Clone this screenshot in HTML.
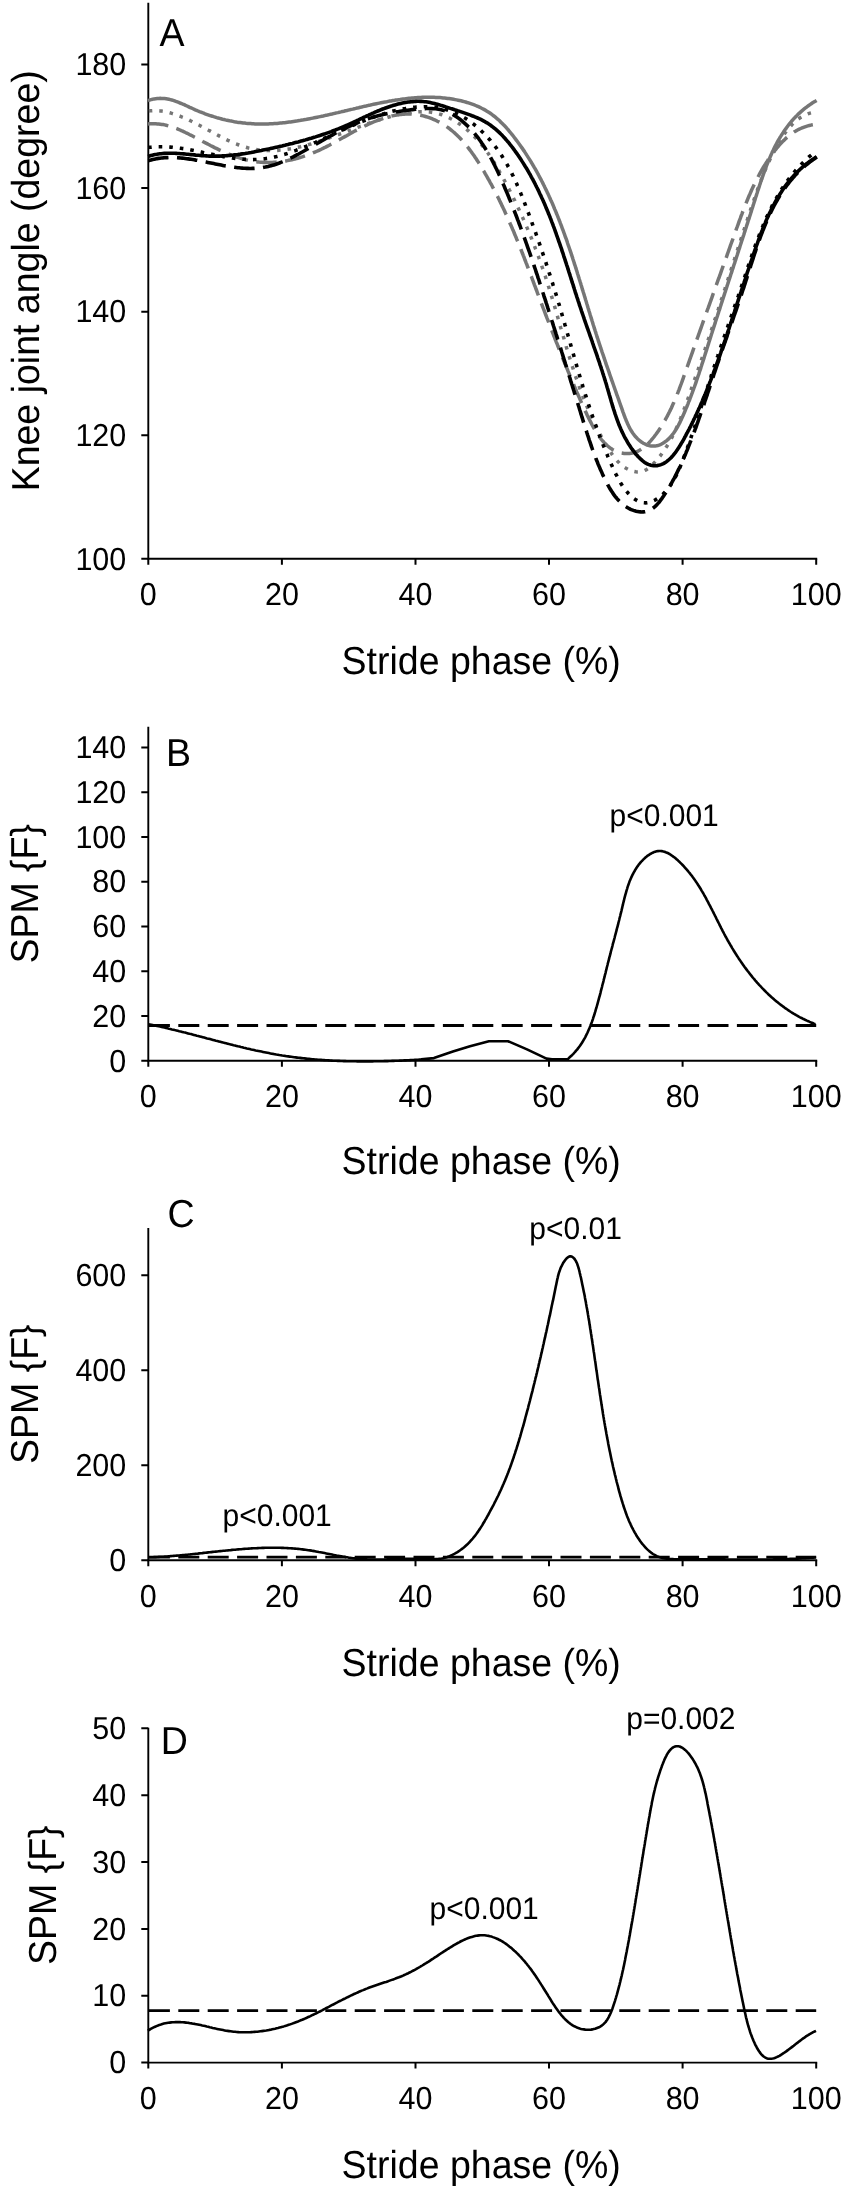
<!DOCTYPE html><html><head><meta charset="utf-8"><style>html,body{margin:0;padding:0;background:#fff;width:850px;height:2190px;overflow:hidden}svg{display:block;will-change:transform;text-rendering:geometricPrecision}</style></head><body><svg width="850" height="2190" viewBox="0 0 850 2190">
<rect width="850" height="2190" fill="#fff"/>
<g font-family="&quot;Liberation Sans&quot;, sans-serif"><path d="M148.3 2.8V558.8M147.3 558.8H817.2" stroke="#000" stroke-width="1.9" fill="none"/><path d="M141.3 558.8H148.3M141.3 435.2H148.3M141.3 311.7H148.3M141.3 188.1H148.3M141.3 64.6H148.3M148.3 558.8V564.8M281.9 558.8V564.8M415.5 558.8V564.8M549.0 558.8V564.8M682.6 558.8V564.8M816.2 558.8V564.8" stroke="#000" stroke-width="2" fill="none"/><text transform="translate(126.3,569.5) scale(1,1.04)" text-anchor="end" font-size="30.5">100</text><text transform="translate(126.3,445.9) scale(1,1.04)" text-anchor="end" font-size="30.5">120</text><text transform="translate(126.3,322.4) scale(1,1.04)" text-anchor="end" font-size="30.5">140</text><text transform="translate(126.3,198.8) scale(1,1.04)" text-anchor="end" font-size="30.5">160</text><text transform="translate(126.3,75.3) scale(1,1.04)" text-anchor="end" font-size="30.5">180</text><text transform="translate(148.3,605.3) scale(1,1.04)" text-anchor="middle" font-size="30.5">0</text><text transform="translate(281.9,605.3) scale(1,1.04)" text-anchor="middle" font-size="30.5">20</text><text transform="translate(415.5,605.3) scale(1,1.04)" text-anchor="middle" font-size="30.5">40</text><text transform="translate(549.0,605.3) scale(1,1.04)" text-anchor="middle" font-size="30.5">60</text><text transform="translate(682.6,605.3) scale(1,1.04)" text-anchor="middle" font-size="30.5">80</text><text transform="translate(816.2,605.3) scale(1,1.04)" text-anchor="middle" font-size="30.5">100</text><text transform="translate(481.2,673.8) scale(1,1.04)" text-anchor="middle" font-size="37.5">Stride phase (%)</text><text transform="translate(38.6,280.8) rotate(-90) scale(1,1.04)" text-anchor="middle" font-size="37.5">Knee joint angle (degree)</text><text transform="translate(159.5,46.3) scale(1,1.04)" font-size="37.5">A</text></g>
<g font-family="&quot;Liberation Sans&quot;, sans-serif"><path d="M148.3 726.8V1060.8M147.3 1060.8H817.2" stroke="#000" stroke-width="1.9" fill="none"/><path d="M141.3 1060.8H148.3M141.3 1016.0H148.3M141.3 971.3H148.3M141.3 926.5H148.3M141.3 881.7H148.3M141.3 836.9H148.3M141.3 792.2H148.3M141.3 747.4H148.3M148.3 1060.8V1066.8M281.9 1060.8V1066.8M415.5 1060.8V1066.8M549.0 1060.8V1066.8M682.6 1060.8V1066.8M816.2 1060.8V1066.8" stroke="#000" stroke-width="2" fill="none"/><text transform="translate(126.3,1071.5) scale(1,1.04)" text-anchor="end" font-size="30.5">0</text><text transform="translate(126.3,1026.7) scale(1,1.04)" text-anchor="end" font-size="30.5">20</text><text transform="translate(126.3,982.0) scale(1,1.04)" text-anchor="end" font-size="30.5">40</text><text transform="translate(126.3,937.2) scale(1,1.04)" text-anchor="end" font-size="30.5">60</text><text transform="translate(126.3,892.4) scale(1,1.04)" text-anchor="end" font-size="30.5">80</text><text transform="translate(126.3,847.6) scale(1,1.04)" text-anchor="end" font-size="30.5">100</text><text transform="translate(126.3,802.9) scale(1,1.04)" text-anchor="end" font-size="30.5">120</text><text transform="translate(126.3,758.1) scale(1,1.04)" text-anchor="end" font-size="30.5">140</text><text transform="translate(148.3,1107.3) scale(1,1.04)" text-anchor="middle" font-size="30.5">0</text><text transform="translate(281.9,1107.3) scale(1,1.04)" text-anchor="middle" font-size="30.5">20</text><text transform="translate(415.5,1107.3) scale(1,1.04)" text-anchor="middle" font-size="30.5">40</text><text transform="translate(549.0,1107.3) scale(1,1.04)" text-anchor="middle" font-size="30.5">60</text><text transform="translate(682.6,1107.3) scale(1,1.04)" text-anchor="middle" font-size="30.5">80</text><text transform="translate(816.2,1107.3) scale(1,1.04)" text-anchor="middle" font-size="30.5">100</text><text transform="translate(481.2,1173.6) scale(1,1.04)" text-anchor="middle" font-size="37.5">Stride phase (%)</text><text transform="translate(38,893.8) rotate(-90) scale(1,1.04)" text-anchor="middle" font-size="37.5">SPM {F}</text><text transform="translate(166,766.2) scale(1,1.04)" font-size="37.5">B</text></g>
<g font-family="&quot;Liberation Sans&quot;, sans-serif"><path d="M148.3 1228.0V1560.3M147.3 1560.3H817.2" stroke="#000" stroke-width="1.9" fill="none"/><path d="M141.3 1560.3H148.3M141.3 1465.3H148.3M141.3 1370.2H148.3M141.3 1275.2H148.3M148.3 1560.3V1566.3M281.9 1560.3V1566.3M415.5 1560.3V1566.3M549.0 1560.3V1566.3M682.6 1560.3V1566.3M816.2 1560.3V1566.3" stroke="#000" stroke-width="2" fill="none"/><text transform="translate(126.3,1571.0) scale(1,1.04)" text-anchor="end" font-size="30.5">0</text><text transform="translate(126.3,1476.0) scale(1,1.04)" text-anchor="end" font-size="30.5">200</text><text transform="translate(126.3,1380.9) scale(1,1.04)" text-anchor="end" font-size="30.5">400</text><text transform="translate(126.3,1285.9) scale(1,1.04)" text-anchor="end" font-size="30.5">600</text><text transform="translate(148.3,1606.8) scale(1,1.04)" text-anchor="middle" font-size="30.5">0</text><text transform="translate(281.9,1606.8) scale(1,1.04)" text-anchor="middle" font-size="30.5">20</text><text transform="translate(415.5,1606.8) scale(1,1.04)" text-anchor="middle" font-size="30.5">40</text><text transform="translate(549.0,1606.8) scale(1,1.04)" text-anchor="middle" font-size="30.5">60</text><text transform="translate(682.6,1606.8) scale(1,1.04)" text-anchor="middle" font-size="30.5">80</text><text transform="translate(816.2,1606.8) scale(1,1.04)" text-anchor="middle" font-size="30.5">100</text><text transform="translate(481.2,1676.3) scale(1,1.04)" text-anchor="middle" font-size="37.5">Stride phase (%)</text><text transform="translate(38,1394.2) rotate(-90) scale(1,1.04)" text-anchor="middle" font-size="37.5">SPM {F}</text><text transform="translate(167.5,1226.6) scale(1,1.04)" font-size="37.5">C</text></g>
<g font-family="&quot;Liberation Sans&quot;, sans-serif"><path d="M148.3 1727.8V2062.6M147.3 2062.6H817.2" stroke="#000" stroke-width="1.9" fill="none"/><path d="M141.3 2062.6H148.3M141.3 1995.7H148.3M141.3 1928.9H148.3M141.3 1862.0H148.3M141.3 1795.2H148.3M141.3 1728.3H148.3M148.3 2062.6V2068.6M281.9 2062.6V2068.6M415.5 2062.6V2068.6M549.0 2062.6V2068.6M682.6 2062.6V2068.6M816.2 2062.6V2068.6" stroke="#000" stroke-width="2" fill="none"/><text transform="translate(126.3,2073.3) scale(1,1.04)" text-anchor="end" font-size="30.5">0</text><text transform="translate(126.3,2006.4) scale(1,1.04)" text-anchor="end" font-size="30.5">10</text><text transform="translate(126.3,1939.6) scale(1,1.04)" text-anchor="end" font-size="30.5">20</text><text transform="translate(126.3,1872.7) scale(1,1.04)" text-anchor="end" font-size="30.5">30</text><text transform="translate(126.3,1805.9) scale(1,1.04)" text-anchor="end" font-size="30.5">40</text><text transform="translate(126.3,1739.0) scale(1,1.04)" text-anchor="end" font-size="30.5">50</text><text transform="translate(148.3,2109.1) scale(1,1.04)" text-anchor="middle" font-size="30.5">0</text><text transform="translate(281.9,2109.1) scale(1,1.04)" text-anchor="middle" font-size="30.5">20</text><text transform="translate(415.5,2109.1) scale(1,1.04)" text-anchor="middle" font-size="30.5">40</text><text transform="translate(549.0,2109.1) scale(1,1.04)" text-anchor="middle" font-size="30.5">60</text><text transform="translate(682.6,2109.1) scale(1,1.04)" text-anchor="middle" font-size="30.5">80</text><text transform="translate(816.2,2109.1) scale(1,1.04)" text-anchor="middle" font-size="30.5">100</text><text transform="translate(481.2,2177.6) scale(1,1.04)" text-anchor="middle" font-size="37.5">Stride phase (%)</text><text transform="translate(55.5,1895.2) rotate(-90) scale(1,1.04)" text-anchor="middle" font-size="37.5">SPM {F}</text><text transform="translate(160.8,1754.3) scale(1,1.04)" font-size="37.5">D</text></g>
<path d="M148.0 123.9L149.6 123.8L151.2 123.7L152.7 123.7L154.3 123.7L155.8 123.8L157.3 123.9L158.8 124.0L160.3 124.2L161.8 124.4L163.2 124.6L164.7 124.9L166.1 125.2L167.5 125.6L168.9 126.0L170.4 126.4L171.7 126.8L173.1 127.3L174.5 127.8L175.9 128.3L177.3 128.8L178.6 129.4L180.0 130.0L181.3 130.6L182.7 131.2L184.0 131.8L185.4 132.5L186.7 133.1L188.1 133.8L189.4 134.5L190.7 135.1L192.1 135.8L193.4 136.5L194.7 137.2L196.1 137.9L197.4 138.7L198.8 139.4L200.1 140.1L201.5 140.8L202.8 141.5L204.2 142.2L205.5 142.9L206.9 143.6L208.2 144.3L209.6 145.0L210.9 145.7L212.3 146.4L213.7 147.1L215.0 147.8L216.4 148.4L217.8 149.1L219.2 149.8L220.5 150.4L221.9 151.0L223.3 151.7L224.7 152.3L226.1 152.9L227.5 153.5L228.9 154.1L230.3 154.6L231.7 155.2L233.1 155.7L234.5 156.2L235.9 156.8L237.3 157.2L238.7 157.7L240.2 158.2L241.6 158.6L243.0 159.0L244.4 159.4L245.9 159.8L247.3 160.1L248.8 160.5L250.2 160.8L251.7 161.1L253.1 161.3L254.6 161.6L256.1 161.8L257.5 161.9L259.0 162.1L260.5 162.2L262.0 162.3L263.5 162.4L265.0 162.5L266.5 162.5L268.0 162.5L269.4 162.5L270.9 162.5L272.4 162.4L273.9 162.3L275.4 162.2L277.0 162.1L278.5 161.9L280.0 161.8L281.5 161.6L283.0 161.4L284.4 161.1L285.9 160.9L287.4 160.6L288.9 160.3L290.4 160.0L291.9 159.7L293.4 159.3L294.9 159.0L296.3 158.6L297.8 158.2L299.3 157.7L300.7 157.3L302.2 156.9L303.6 156.4L305.0 155.9L306.5 155.4L307.9 154.9L309.3 154.4L310.7 153.8L312.1 153.3L313.5 152.7L314.9 152.1L316.3 151.5L317.7 150.9L319.0 150.3L320.4 149.7L321.7 149.0L323.0 148.4L324.4 147.7L325.7 147.1L327.0 146.4L328.3 145.7L329.7 145.0L331.0 144.3L332.3 143.6L333.6 142.9L334.9 142.2L336.2 141.5L337.5 140.8L338.8 140.0L340.1 139.3L341.4 138.6L342.7 137.8L344.0 137.1L345.3 136.4L346.6 135.7L347.9 134.9L349.2 134.2L350.5 133.5L351.8 132.8L353.1 132.0L354.4 131.3L355.7 130.6L357.1 129.9L358.4 129.2L359.7 128.5L361.1 127.8L362.4 127.1L363.8 126.5L365.2 125.8L366.6 125.1L367.9 124.5L369.3 123.8L370.7 123.2L372.1 122.6L373.5 122.0L374.9 121.4L376.4 120.9L377.8 120.3L379.2 119.8L380.7 119.3L382.1 118.8L383.5 118.3L385.0 117.8L386.4 117.4L387.9 117.0L389.3 116.6L390.8 116.2L392.3 115.9L393.7 115.6L395.2 115.3L396.7 115.0L398.1 114.8L399.6 114.6L401.1 114.4L402.6 114.3L404.1 114.2L405.5 114.1L407.0 114.0L408.5 114.0L410.0 114.0L411.5 114.1L413.0 114.2L414.4 114.3L415.9 114.5L417.4 114.7L418.9 114.9L420.4 115.2L421.8 115.5L423.3 115.9L424.7 116.3L426.2 116.7L427.6 117.1L429.1 117.6L430.5 118.1L431.9 118.7L433.3 119.3L434.7 119.9L436.1 120.5L437.4 121.2L438.8 121.9L440.1 122.6L441.4 123.3L442.7 124.1L444.0 124.9L445.2 125.7L446.4 126.5L447.7 127.4L448.9 128.2L450.0 129.1L451.2 130.1L452.3 131.0L453.5 132.0L454.6 132.9L455.7 133.9L456.8 135.0L457.8 136.0L458.9 137.0L459.9 138.1L461.0 139.2L462.0 140.3L463.0 141.4L464.0 142.5L464.9 143.7L465.9 144.8L466.9 146.0L467.8 147.2L468.7 148.4L469.6 149.6L470.5 150.8L471.4 152.0L472.3 153.3L473.2 154.5L474.1 155.7L474.9 157.0L475.8 158.3L476.6 159.5L477.4 160.8L478.3 162.1L479.1 163.4L479.9 164.7L480.7 166.0L481.5 167.3L482.3 168.6L483.0 169.9L483.8 171.2L484.6 172.5L485.3 173.8L486.1 175.2L486.9 176.5L487.6 177.8L488.3 179.1L489.1 180.4L489.8 181.8L490.5 183.1L491.3 184.4L492.0 185.7L492.7 187.1L493.4 188.4L494.1 189.7L494.8 191.1L495.5 192.4L496.2 193.8L496.8 195.1L497.5 196.4L498.2 197.8L498.9 199.1L499.5 200.5L500.2 201.8L500.8 203.2L501.5 204.5L502.1 205.9L502.8 207.3L503.4 208.6L504.1 210.0L504.7 211.3L505.3 212.7L505.9 214.1L506.6 215.4L507.2 216.8L507.8 218.2L508.4 219.5L509.0 220.9L509.6 222.3L510.2 223.7L510.8 225.0L511.4 226.4L512.0 227.8L512.6 229.2L513.2 230.5L513.8 231.9L514.3 233.3L514.9 234.7L515.5 236.1L516.1 237.5L516.6 238.9L517.2 240.2L517.8 241.6L518.3 243.0L518.9 244.4L519.4 245.8L520.0 247.2L520.6 248.6L521.1 250.0L521.7 251.4L522.2 252.8L522.8 254.2L523.3 255.6L523.9 257.0L524.4 258.4L524.9 259.8L525.5 261.2L526.0 262.6L526.6 264.0L527.1 265.4L527.6 266.8L528.2 268.2L528.7 269.6L529.2 271.0L529.8 272.4L530.3 273.8L530.8 275.2L531.4 276.6L531.9 278.0L532.4 279.5L533.0 280.9L533.5 282.3L534.0 283.7L534.5 285.1L535.1 286.5L535.6 287.9L536.1 289.3L536.7 290.7L537.2 292.2L537.7 293.6L538.3 295.0L538.8 296.4L539.3 297.8L539.8 299.2L540.4 300.6L540.9 302.1L541.4 303.5L542.0 304.9L542.5 306.3L543.0 307.7L543.6 309.1L544.1 310.5L544.7 312.0L545.2 313.4L545.7 314.8L546.3 316.2L546.8 317.6L547.4 319.0L547.9 320.5L548.5 321.9L549.0 323.3L549.5 324.7L550.1 326.1L550.6 327.5L551.2 328.9L551.7 330.3L552.3 331.8L552.8 333.2L553.4 334.6L553.9 336.0L554.5 337.4L555.0 338.8L555.6 340.2L556.1 341.6L556.7 343.0L557.3 344.4L557.8 345.8L558.4 347.2L558.9 348.6L559.5 350.0L560.0 351.4L560.6 352.8L561.2 354.2L561.7 355.6L562.3 357.0L562.8 358.4L563.4 359.8L564.0 361.2L564.5 362.6L565.1 364.0L565.7 365.4L566.2 366.7L566.8 368.1L567.4 369.5L567.9 370.9L568.5 372.3L569.1 373.6L569.6 375.0L570.2 376.4L570.8 377.8L571.4 379.1L571.9 380.5L572.5 381.9L573.1 383.2L573.7 384.6L574.2 385.9L574.8 387.3L575.4 388.7L576.0 390.0L576.5 391.4L577.1 392.7L577.7 394.1L578.3 395.4L578.9 396.8L579.5 398.1L580.1 399.5L580.7 400.9L581.3 402.2L581.9 403.6L582.5 405.0L583.1 406.3L583.8 407.7L584.4 409.1L585.0 410.5L585.7 411.9L586.4 413.3L587.0 414.7L587.7 416.1L588.4 417.5L589.1 419.0L589.8 420.4L590.6 421.9L591.3 423.3L592.0 424.7L592.8 426.2L593.6 427.6L594.4 429.0L595.2 430.4L596.0 431.7L596.9 433.1L597.8 434.4L598.6 435.7L599.6 437.0L600.5 438.3L601.4 439.5L602.4 440.7L603.4 441.8L604.4 442.9L605.5 444.0L606.6 445.0L607.7 446.0L608.8 446.9L610.0 447.8L611.1 448.6L612.4 449.4L613.6 450.1L614.9 450.7L616.2 451.3L617.5 451.8L618.8 452.2L620.1 452.6L621.5 453.0L622.8 453.2L624.2 453.4L625.6 453.5L626.9 453.6L628.3 453.6L629.6 453.5L631.0 453.3L632.3 453.1L633.6 452.7L634.9 452.4L636.2 451.9L637.5 451.3L638.7 450.7L639.9 450.1L641.1 449.3L642.3 448.5L643.5 447.7L644.6 446.8L645.7 445.8L646.8 444.8L647.9 443.8L649.0 442.7L650.0 441.6L651.1 440.4L652.1 439.2L653.1 438.0L654.1 436.8L655.0 435.5L656.0 434.3L656.9 433.0L657.8 431.7L658.7 430.4L659.6 429.1L660.4 427.8L661.2 426.5L662.1 425.2L662.9 423.9L663.7 422.6L664.4 421.2L665.2 419.9L665.9 418.6L666.7 417.2L667.4 415.9L668.1 414.5L668.8 413.1L669.5 411.8L670.2 410.4L670.8 409.1L671.5 407.7L672.1 406.3L672.7 404.9L673.3 403.5L673.9 402.2L674.5 400.8L675.1 399.4L675.7 398.0L676.3 396.6L676.9 395.2L677.4 393.8L678.0 392.4L678.5 391.0L679.1 389.6L679.6 388.2L680.1 386.7L680.6 385.3L681.2 383.9L681.7 382.5L682.2 381.1L682.7 379.7L683.2 378.3L683.7 376.8L684.2 375.4L684.7 374.0L685.2 372.6L685.7 371.2L686.2 369.8L686.7 368.3L687.2 366.9L687.7 365.5L688.2 364.1L688.7 362.7L689.2 361.3L689.7 359.8L690.2 358.4L690.7 357.0L691.2 355.6L691.7 354.2L692.2 352.8L692.7 351.4L693.2 349.9L693.7 348.5L694.2 347.1L694.7 345.7L695.2 344.3L695.7 342.9L696.2 341.5L696.7 340.1L697.2 338.7L697.7 337.2L698.2 335.8L698.7 334.4L699.2 333.0L699.7 331.6L700.2 330.2L700.7 328.8L701.2 327.4L701.7 326.0L702.2 324.5L702.7 323.1L703.2 321.7L703.7 320.3L704.2 318.9L704.7 317.5L705.2 316.1L705.7 314.7L706.2 313.3L706.7 311.9L707.2 310.5L707.7 309.0L708.3 307.6L708.8 306.2L709.3 304.8L709.8 303.4L710.3 302.0L710.8 300.6L711.3 299.2L711.8 297.8L712.3 296.4L712.8 294.9L713.3 293.5L713.8 292.1L714.3 290.7L714.8 289.3L715.3 287.9L715.8 286.5L716.3 285.1L716.8 283.7L717.3 282.2L717.8 280.8L718.3 279.4L718.9 278.0L719.4 276.6L719.9 275.2L720.4 273.8L720.9 272.4L721.4 270.9L721.9 269.5L722.4 268.1L722.9 266.7L723.4 265.3L723.9 263.9L724.4 262.5L724.9 261.0L725.4 259.6L726.0 258.2L726.5 256.8L727.0 255.4L727.5 253.9L728.0 252.5L728.5 251.1L729.0 249.7L729.5 248.3L730.0 246.9L730.5 245.4L731.0 244.0L731.5 242.6L732.1 241.2L732.6 239.7L733.1 238.3L733.6 236.9L734.1 235.5L734.6 234.0L735.1 232.6L735.6 231.2L736.1 229.8L736.6 228.3L737.2 226.9L737.7 225.5L738.2 224.1L738.7 222.6L739.2 221.2L739.7 219.8L740.3 218.4L740.8 216.9L741.3 215.5L741.9 214.1L742.4 212.7L742.9 211.3L743.5 209.9L744.0 208.4L744.6 207.0L745.1 205.6L745.7 204.2L746.2 202.8L746.8 201.4L747.4 200.0L747.9 198.6L748.5 197.2L749.1 195.8L749.7 194.5L750.3 193.1L750.9 191.7L751.5 190.3L752.1 189.0L752.8 187.6L753.4 186.2L754.0 184.9L754.7 183.5L755.4 182.2L756.0 180.8L756.7 179.5L757.4 178.2L758.1 176.8L758.8 175.5L759.5 174.2L760.2 172.9L760.9 171.6L761.6 170.3L762.4 169.0L763.1 167.7L763.9 166.4L764.7 165.1L765.5 163.9L766.3 162.6L767.1 161.4L767.9 160.1L768.7 158.9L769.6 157.7L770.4 156.4L771.3 155.2L772.1 154.0L773.0 152.8L773.9 151.6L774.9 150.4L775.8 149.3L776.7 148.1L777.7 147.0L778.7 145.8L779.6 144.7L780.7 143.6L781.7 142.5L782.7 141.4L783.8 140.4L784.8 139.4L785.9 138.4L787.0 137.4L788.2 136.4L789.3 135.5L790.5 134.6L791.7 133.7L792.9 132.9L794.1 132.0L795.4 131.3L796.7 130.5L798.0 129.8L799.3 129.1L800.7 128.5L802.1 127.9L803.5 127.3L804.9 126.8L806.4 126.3L807.8 125.9L809.4 125.5L810.9 125.1L812.5 124.8L814.1 124.5L815.7 124.3L817.4 124.2" fill="none" stroke="#767676" stroke-width="3.5" stroke-dasharray="20.5 8.5"/>
<path d="M148.8 110.9L150.2 110.8L151.6 110.7L153.0 110.6L154.4 110.6L155.8 110.6L157.2 110.7L158.6 110.8L160.0 110.9L161.4 111.1L162.8 111.3L164.2 111.5L165.6 111.8L167.0 112.1L168.4 112.4L169.8 112.8L171.1 113.2L172.5 113.6L173.9 114.0L175.3 114.5L176.7 114.9L178.1 115.4L179.5 116.0L180.9 116.5L182.2 117.1L183.6 117.6L185.0 118.2L186.4 118.9L187.8 119.5L189.2 120.1L190.5 120.8L191.9 121.5L193.3 122.2L194.7 122.8L196.1 123.6L197.4 124.3L198.8 125.0L200.2 125.7L201.6 126.5L203.0 127.2L204.3 127.9L205.7 128.7L207.1 129.4L208.5 130.2L209.9 130.9L211.3 131.7L212.6 132.4L214.0 133.2L215.4 133.9L216.8 134.6L218.2 135.4L219.6 136.1L221.0 136.8L222.3 137.5L223.7 138.2L225.1 138.9L226.5 139.6L227.9 140.3L229.3 140.9L230.7 141.5L232.1 142.2L233.5 142.8L234.9 143.4L236.3 143.9L237.7 144.5L239.1 145.0L240.5 145.5L241.9 146.0L243.3 146.5L244.7 146.9L246.1 147.3L247.5 147.7L248.9 148.1L250.3 148.4L251.8 148.7L253.2 149.0L254.6 149.3L256.0 149.5L257.4 149.7L258.8 149.9L260.3 150.1L261.7 150.2L263.1 150.4L264.6 150.5L266.0 150.5L267.4 150.6L268.8 150.6L270.3 150.6L271.7 150.6L273.1 150.6L274.6 150.5L276.0 150.5L277.5 150.4L278.9 150.3L280.3 150.1L281.8 150.0L283.2 149.8L284.7 149.7L286.1 149.5L287.6 149.3L289.0 149.0L290.4 148.8L291.9 148.5L293.3 148.3L294.8 148.0L296.2 147.7L297.7 147.3L299.2 147.0L300.6 146.7L302.1 146.3L303.5 146.0L305.0 145.6L306.4 145.2L307.9 144.8L309.3 144.4L310.8 144.0L312.3 143.5L313.7 143.1L315.2 142.6L316.6 142.2L318.1 141.7L319.6 141.2L321.0 140.8L322.5 140.3L323.9 139.8L325.4 139.3L326.9 138.8L328.3 138.3L329.8 137.7L331.3 137.2L332.7 136.7L334.2 136.2L335.6 135.6L337.1 135.1L338.6 134.5L340.0 134.0L341.5 133.5L343.0 132.9L344.4 132.4L345.9 131.8L347.4 131.3L348.8 130.7L350.3 130.2L351.7 129.6L353.2 129.1L354.7 128.5L356.1 128.0L357.6 127.4L359.1 126.9L360.5 126.3L362.0 125.8L363.4 125.3L364.9 124.7L366.4 124.2L367.8 123.7L369.3 123.2L370.8 122.7L372.2 122.2L373.7 121.7L375.1 121.2L376.6 120.7L378.0 120.2L379.5 119.8L381.0 119.3L382.4 118.9L383.9 118.4L385.3 118.0L386.8 117.6L388.2 117.2L389.7 116.8L391.1 116.4L392.6 116.0L394.0 115.6L395.5 115.3L396.9 114.9L398.4 114.6L399.8 114.3L401.3 114.0L402.7 113.7L404.2 113.4L405.6 113.2L407.0 112.9L408.5 112.7L409.9 112.5L411.3 112.3L412.8 112.2L414.2 112.0L415.7 111.9L417.1 111.8L418.5 111.7L419.9 111.7L421.4 111.7L422.8 111.7L424.2 111.7L425.6 111.8L427.1 111.9L428.5 112.0L429.9 112.1L431.3 112.3L432.7 112.5L434.1 112.8L435.5 113.1L436.9 113.4L438.3 113.7L439.7 114.1L441.1 114.5L442.5 115.0L443.9 115.5L445.3 116.1L446.7 116.7L448.1 117.3L449.5 118.0L450.8 118.7L452.2 119.4L453.6 120.2L454.9 120.9L456.2 121.8L457.6 122.6L458.9 123.5L460.1 124.4L461.4 125.3L462.7 126.2L463.9 127.2L465.1 128.1L466.3 129.1L467.5 130.1L468.7 131.1L469.8 132.1L470.9 133.2L472.0 134.2L473.1 135.3L474.2 136.4L475.2 137.4L476.2 138.5L477.3 139.6L478.3 140.8L479.2 141.9L480.2 143.0L481.2 144.2L482.1 145.3L483.0 146.5L484.0 147.7L484.9 148.9L485.8 150.1L486.6 151.3L487.5 152.5L488.4 153.7L489.2 155.0L490.0 156.2L490.9 157.4L491.7 158.7L492.5 159.9L493.3 161.2L494.1 162.5L494.9 163.8L495.6 165.0L496.4 166.3L497.2 167.6L497.9 168.9L498.7 170.2L499.4 171.5L500.1 172.8L500.9 174.1L501.6 175.4L502.3 176.7L503.1 178.0L503.8 179.4L504.5 180.7L505.2 182.0L505.9 183.3L506.6 184.7L507.3 186.0L508.0 187.3L508.7 188.6L509.4 190.0L510.1 191.3L510.7 192.6L511.4 194.0L512.1 195.3L512.8 196.7L513.4 198.0L514.1 199.4L514.8 200.7L515.4 202.1L516.1 203.4L516.7 204.8L517.4 206.1L518.0 207.5L518.6 208.9L519.3 210.2L519.9 211.6L520.5 212.9L521.2 214.3L521.8 215.7L522.4 217.1L523.0 218.4L523.6 219.8L524.2 221.2L524.8 222.6L525.4 223.9L526.0 225.3L526.6 226.7L527.2 228.1L527.8 229.5L528.4 230.9L528.9 232.3L529.5 233.7L530.1 235.0L530.7 236.4L531.2 237.8L531.8 239.2L532.3 240.6L532.9 242.0L533.4 243.4L534.0 244.8L534.5 246.2L535.1 247.7L535.6 249.1L536.2 250.5L536.7 251.9L537.2 253.3L537.7 254.7L538.3 256.1L538.8 257.5L539.3 259.0L539.8 260.4L540.3 261.8L540.8 263.2L541.3 264.6L541.8 266.1L542.3 267.5L542.8 268.9L543.3 270.3L543.8 271.8L544.2 273.2L544.7 274.6L545.2 276.0L545.7 277.5L546.1 278.9L546.6 280.3L547.1 281.8L547.5 283.2L548.0 284.7L548.4 286.1L548.9 287.5L549.3 289.0L549.8 290.4L550.2 291.9L550.7 293.3L551.1 294.7L551.5 296.2L552.0 297.6L552.4 299.1L552.8 300.5L553.3 302.0L553.7 303.4L554.1 304.8L554.6 306.3L555.0 307.7L555.4 309.2L555.8 310.6L556.2 312.1L556.7 313.5L557.1 315.0L557.5 316.4L557.9 317.9L558.3 319.3L558.8 320.8L559.2 322.2L559.6 323.7L560.0 325.1L560.4 326.6L560.8 328.0L561.3 329.4L561.7 330.9L562.1 332.3L562.5 333.8L562.9 335.2L563.4 336.7L563.8 338.1L564.2 339.6L564.6 341.0L565.0 342.5L565.5 343.9L565.9 345.3L566.3 346.8L566.7 348.2L567.2 349.7L567.6 351.1L568.0 352.5L568.5 354.0L568.9 355.4L569.4 356.9L569.8 358.3L570.2 359.7L570.7 361.2L571.1 362.6L571.6 364.0L572.0 365.5L572.5 366.9L573.0 368.3L573.4 369.7L573.9 371.2L574.4 372.6L574.8 374.0L575.3 375.4L575.8 376.9L576.3 378.3L576.8 379.7L577.3 381.1L577.8 382.5L578.3 383.9L578.8 385.3L579.3 386.8L579.8 388.2L580.3 389.6L580.8 391.0L581.3 392.4L581.9 393.8L582.4 395.2L582.9 396.6L583.5 398.0L584.0 399.4L584.6 400.8L585.1 402.1L585.7 403.5L586.3 404.9L586.9 406.3L587.4 407.7L588.0 409.1L588.6 410.4L589.2 411.8L589.8 413.2L590.4 414.6L591.0 415.9L591.7 417.3L592.3 418.7L592.9 420.0L593.6 421.4L594.2 422.7L594.9 424.1L595.6 425.4L596.2 426.8L596.9 428.1L597.6 429.5L598.3 430.8L599.0 432.1L599.7 433.5L600.4 434.8L601.1 436.1L601.9 437.5L602.6 438.8L603.3 440.1L604.1 441.4L604.9 442.7L605.6 444.0L606.4 445.4L607.2 446.7L608.0 448.0L608.8 449.3L609.6 450.5L610.4 451.8L611.3 453.1L612.1 454.4L613.0 455.6L613.9 456.8L614.9 458.1L615.8 459.2L616.8 460.4L617.8 461.5L618.9 462.6L619.9 463.7L621.1 464.7L622.2 465.6L623.4 466.6L624.7 467.5L626.0 468.3L627.4 469.0L628.7 469.7L630.1 470.4L631.6 470.9L633.0 471.3L634.4 471.6L635.9 471.8L637.3 471.9L638.7 471.9L640.1 471.8L641.5 471.5L642.9 471.2L644.2 470.7L645.5 470.1L646.7 469.4L647.9 468.6L649.1 467.7L650.2 466.8L651.3 465.8L652.4 464.8L653.4 463.7L654.5 462.6L655.5 461.5L656.5 460.4L657.4 459.2L658.4 458.1L659.3 456.9L660.3 455.8L661.2 454.6L662.0 453.4L662.9 452.2L663.8 451.0L664.6 449.7L665.4 448.5L666.2 447.2L667.0 446.0L667.8 444.7L668.6 443.4L669.3 442.1L670.0 440.8L670.8 439.5L671.5 438.2L672.2 436.9L672.9 435.6L673.5 434.2L674.2 432.9L674.8 431.5L675.5 430.2L676.1 428.8L676.7 427.4L677.4 426.1L678.0 424.7L678.6 423.3L679.1 421.9L679.7 420.5L680.3 419.1L680.9 417.7L681.4 416.3L682.0 414.9L682.5 413.4L683.1 412.0L683.6 410.6L684.1 409.2L684.7 407.7L685.2 406.3L685.7 404.9L686.2 403.5L686.8 402.0L687.3 400.6L687.8 399.2L688.3 397.7L688.8 396.3L689.3 394.9L689.8 393.4L690.3 392.0L690.8 390.6L691.3 389.1L691.8 387.7L692.3 386.3L692.8 384.8L693.3 383.4L693.8 382.0L694.3 380.5L694.8 379.1L695.3 377.7L695.8 376.3L696.3 374.8L696.8 373.4L697.3 372.0L697.8 370.5L698.3 369.1L698.8 367.7L699.3 366.3L699.8 364.8L700.2 363.4L700.7 362.0L701.2 360.5L701.7 359.1L702.2 357.7L702.7 356.3L703.1 354.8L703.6 353.4L704.1 352.0L704.6 350.6L705.1 349.1L705.5 347.7L706.0 346.3L706.5 344.9L707.0 343.4L707.5 342.0L707.9 340.6L708.4 339.2L708.9 337.7L709.4 336.3L709.8 334.9L710.3 333.4L710.8 332.0L711.2 330.6L711.7 329.2L712.2 327.7L712.7 326.3L713.1 324.9L713.6 323.5L714.1 322.1L714.5 320.6L715.0 319.2L715.5 317.8L715.9 316.4L716.4 314.9L716.9 313.5L717.3 312.1L717.8 310.7L718.3 309.2L718.7 307.8L719.2 306.4L719.7 305.0L720.1 303.5L720.6 302.1L721.1 300.7L721.5 299.3L722.0 297.8L722.4 296.4L722.9 295.0L723.4 293.6L723.8 292.1L724.3 290.7L724.8 289.3L725.2 287.9L725.7 286.4L726.1 285.0L726.6 283.6L727.1 282.2L727.5 280.7L728.0 279.3L728.5 277.9L728.9 276.4L729.4 275.0L729.8 273.6L730.3 272.2L730.8 270.7L731.2 269.3L731.7 267.9L732.1 266.5L732.6 265.0L733.1 263.6L733.5 262.2L734.0 260.7L734.5 259.3L734.9 257.9L735.4 256.5L735.8 255.0L736.3 253.6L736.8 252.2L737.2 250.7L737.7 249.3L738.2 247.9L738.6 246.5L739.1 245.0L739.5 243.6L740.0 242.2L740.5 240.7L740.9 239.3L741.4 237.9L741.9 236.4L742.3 235.0L742.8 233.6L743.3 232.1L743.7 230.7L744.2 229.3L744.7 227.9L745.1 226.4L745.6 225.0L746.1 223.5L746.5 222.1L747.0 220.7L747.5 219.2L747.9 217.8L748.4 216.4L748.9 214.9L749.4 213.5L749.8 212.1L750.3 210.6L750.8 209.2L751.3 207.8L751.7 206.3L752.2 204.9L752.7 203.5L753.2 202.0L753.7 200.6L754.2 199.2L754.7 197.7L755.2 196.3L755.7 194.9L756.2 193.5L756.7 192.0L757.2 190.6L757.7 189.2L758.2 187.8L758.7 186.3L759.3 184.9L759.8 183.5L760.3 182.1L760.9 180.7L761.4 179.3L762.0 177.9L762.5 176.5L763.1 175.1L763.7 173.7L764.2 172.3L764.8 170.9L765.4 169.5L766.0 168.2L766.6 166.8L767.2 165.4L767.8 164.0L768.5 162.7L769.1 161.3L769.7 159.9L770.4 158.6L771.1 157.2L771.7 155.9L772.4 154.5L773.1 153.2L773.8 151.9L774.5 150.5L775.2 149.2L775.9 147.9L776.6 146.6L777.4 145.3L778.1 144.0L778.9 142.7L779.6 141.4L780.4 140.1L781.2 138.8L782.0 137.5L782.8 136.3L783.7 135.0L784.5 133.8L785.4 132.6L786.2 131.4L787.1 130.2L788.1 129.0L789.0 127.9L790.0 126.8L791.0 125.7L792.0 124.6L793.0 123.6L794.1 122.6L795.2 121.6L796.3 120.6L797.4 119.7L798.6 118.9L799.8 118.0L801.1 117.2L802.4 116.5L803.7 115.8L805.0 115.1L806.4 114.5L807.9 113.9L809.3 113.4L810.8 112.9L812.4 112.5L814.0 112.1L815.6 111.8L817.3 111.6" fill="none" stroke="#767676" stroke-width="3.5" stroke-dasharray="3.5 7"/>
<path d="M147.9 100.6L149.5 100.1L151.1 99.6L152.6 99.2L154.2 98.9L155.7 98.7L157.2 98.5L158.7 98.4L160.2 98.3L161.7 98.4L163.2 98.5L164.6 98.6L166.1 98.8L167.5 99.0L168.9 99.3L170.3 99.6L171.8 100.0L173.2 100.4L174.6 100.9L175.9 101.4L177.3 101.9L178.7 102.4L180.1 103.0L181.5 103.5L182.8 104.1L184.2 104.7L185.6 105.4L187.0 106.0L188.3 106.6L189.7 107.3L191.1 107.9L192.5 108.5L193.9 109.2L195.2 109.8L196.6 110.4L198.0 111.0L199.4 111.6L200.9 112.1L202.3 112.7L203.7 113.2L205.1 113.8L206.5 114.3L208.0 114.8L209.4 115.3L210.9 115.8L212.3 116.2L213.7 116.7L215.2 117.1L216.7 117.6L218.1 118.0L219.6 118.4L221.0 118.8L222.5 119.2L224.0 119.5L225.4 119.9L226.9 120.2L228.4 120.5L229.8 120.9L231.3 121.1L232.8 121.4L234.3 121.7L235.7 121.9L237.2 122.2L238.7 122.4L240.2 122.6L241.7 122.8L243.1 123.0L244.6 123.1L246.1 123.3L247.6 123.4L249.1 123.5L250.6 123.6L252.0 123.7L253.5 123.8L255.0 123.9L256.5 123.9L258.0 124.0L259.4 124.0L260.9 124.0L262.4 124.0L263.9 124.0L265.4 124.0L266.8 123.9L268.3 123.9L269.8 123.8L271.3 123.8L272.8 123.7L274.3 123.6L275.7 123.5L277.2 123.4L278.7 123.2L280.2 123.1L281.7 123.0L283.1 122.8L284.6 122.7L286.1 122.5L287.6 122.3L289.1 122.1L290.6 121.9L292.0 121.7L293.5 121.5L295.0 121.3L296.5 121.1L298.0 120.8L299.4 120.6L300.9 120.3L302.4 120.1L303.9 119.8L305.4 119.6L306.9 119.3L308.3 119.0L309.8 118.7L311.3 118.4L312.8 118.1L314.3 117.8L315.7 117.5L317.2 117.2L318.7 116.9L320.2 116.6L321.7 116.3L323.2 116.0L324.6 115.6L326.1 115.3L327.6 115.0L329.1 114.6L330.6 114.3L332.0 114.0L333.5 113.6L335.0 113.3L336.5 112.9L338.0 112.6L339.4 112.2L340.9 111.9L342.4 111.5L343.9 111.2L345.4 110.8L346.9 110.5L348.3 110.1L349.8 109.8L351.3 109.4L352.8 109.1L354.3 108.7L355.7 108.4L357.2 108.0L358.7 107.7L360.2 107.3L361.7 107.0L363.1 106.6L364.6 106.3L366.1 106.0L367.6 105.6L369.1 105.3L370.5 105.0L372.0 104.6L373.5 104.3L375.0 104.0L376.4 103.7L377.9 103.4L379.4 103.1L380.9 102.8L382.4 102.5L383.8 102.2L385.3 101.9L386.8 101.7L388.3 101.4L389.7 101.1L391.2 100.9L392.7 100.6L394.2 100.4L395.7 100.1L397.1 99.9L398.6 99.7L400.1 99.5L401.6 99.2L403.0 99.0L404.5 98.9L406.0 98.7L407.5 98.5L408.9 98.3L410.4 98.2L411.9 98.0L413.4 97.9L414.9 97.8L416.3 97.7L417.8 97.6L419.3 97.5L420.8 97.4L422.3 97.3L423.7 97.3L425.2 97.3L426.7 97.2L428.2 97.2L429.7 97.2L431.2 97.2L432.7 97.3L434.2 97.3L435.6 97.4L437.1 97.4L438.6 97.5L440.1 97.6L441.6 97.7L443.1 97.9L444.6 98.0L446.1 98.2L447.6 98.4L449.1 98.6L450.6 98.8L452.1 99.0L453.6 99.3L455.1 99.6L456.6 99.9L458.1 100.2L459.6 100.5L461.1 100.8L462.6 101.2L464.1 101.6L465.6 102.0L467.1 102.5L468.5 102.9L470.0 103.4L471.4 103.9L472.9 104.4L474.3 104.9L475.7 105.5L477.1 106.1L478.5 106.7L479.9 107.3L481.2 108.0L482.6 108.7L483.9 109.4L485.2 110.1L486.5 110.9L487.8 111.7L489.1 112.5L490.3 113.3L491.5 114.2L492.7 115.1L493.9 116.0L495.1 116.9L496.2 117.9L497.3 118.8L498.5 119.8L499.6 120.8L500.6 121.9L501.7 122.9L502.8 124.0L503.8 125.1L504.8 126.1L505.9 127.2L506.9 128.4L507.9 129.5L508.8 130.6L509.8 131.8L510.8 133.0L511.7 134.1L512.7 135.3L513.6 136.5L514.5 137.7L515.4 138.9L516.3 140.1L517.2 141.3L518.1 142.5L519.0 143.7L519.9 144.9L520.8 146.2L521.6 147.4L522.5 148.6L523.3 149.9L524.2 151.1L525.0 152.4L525.8 153.6L526.6 154.9L527.4 156.1L528.2 157.4L529.0 158.6L529.8 159.9L530.6 161.2L531.4 162.5L532.2 163.8L532.9 165.0L533.7 166.3L534.4 167.6L535.2 168.9L535.9 170.2L536.6 171.5L537.4 172.8L538.1 174.2L538.8 175.5L539.5 176.8L540.2 178.1L540.9 179.4L541.6 180.8L542.3 182.1L542.9 183.4L543.6 184.8L544.3 186.1L544.9 187.5L545.6 188.8L546.2 190.2L546.9 191.5L547.5 192.9L548.2 194.2L548.8 195.6L549.4 197.0L550.0 198.3L550.6 199.7L551.3 201.1L551.9 202.4L552.5 203.8L553.1 205.2L553.7 206.6L554.2 208.0L554.8 209.4L555.4 210.7L556.0 212.1L556.5 213.5L557.1 214.9L557.7 216.3L558.2 217.7L558.8 219.1L559.3 220.5L559.9 221.9L560.4 223.3L561.0 224.8L561.5 226.2L562.0 227.6L562.5 229.0L563.1 230.4L563.6 231.8L564.1 233.3L564.6 234.7L565.1 236.1L565.6 237.5L566.2 238.9L566.7 240.4L567.2 241.8L567.6 243.2L568.1 244.7L568.6 246.1L569.1 247.5L569.6 249.0L570.1 250.4L570.6 251.8L571.1 253.3L571.5 254.7L572.0 256.1L572.5 257.6L572.9 259.0L573.4 260.5L573.9 261.9L574.3 263.4L574.8 264.8L575.3 266.2L575.7 267.7L576.2 269.1L576.6 270.6L577.1 272.0L577.5 273.5L578.0 274.9L578.4 276.4L578.9 277.8L579.3 279.2L579.8 280.7L580.2 282.1L580.7 283.6L581.1 285.0L581.6 286.5L582.0 287.9L582.4 289.4L582.9 290.8L583.3 292.3L583.8 293.7L584.2 295.1L584.6 296.6L585.1 298.0L585.5 299.5L586.0 300.9L586.4 302.4L586.8 303.8L587.3 305.2L587.7 306.7L588.1 308.1L588.6 309.6L589.0 311.0L589.5 312.4L589.9 313.9L590.3 315.3L590.8 316.7L591.2 318.2L591.7 319.6L592.1 321.0L592.6 322.5L593.0 323.9L593.4 325.3L593.9 326.7L594.3 328.2L594.8 329.6L595.2 331.0L595.7 332.4L596.1 333.8L596.6 335.2L597.0 336.7L597.5 338.1L598.0 339.5L598.4 340.9L598.9 342.3L599.3 343.7L599.8 345.1L600.3 346.5L600.7 347.9L601.2 349.3L601.7 350.7L602.1 352.1L602.6 353.5L603.1 354.9L603.6 356.3L604.0 357.7L604.5 359.1L605.0 360.6L605.5 362.0L605.9 363.4L606.4 364.8L606.9 366.2L607.4 367.6L607.9 369.0L608.4 370.4L608.9 371.8L609.3 373.2L609.8 374.6L610.3 376.0L610.8 377.4L611.3 378.9L611.8 380.3L612.3 381.7L612.8 383.1L613.3 384.5L613.8 386.0L614.3 387.4L614.8 388.8L615.3 390.3L615.8 391.7L616.3 393.1L616.8 394.6L617.3 396.0L617.9 397.5L618.4 398.9L618.9 400.4L619.4 401.8L619.9 403.3L620.4 404.7L620.9 406.2L621.5 407.7L622.0 409.1L622.5 410.6L623.0 412.1L623.6 413.6L624.1 415.1L624.6 416.5L625.2 418.0L625.8 419.4L626.3 420.9L627.0 422.3L627.6 423.7L628.2 425.1L628.9 426.5L629.6 427.9L630.3 429.2L631.1 430.5L631.9 431.8L632.7 433.0L633.6 434.2L634.5 435.4L635.4 436.5L636.4 437.6L637.5 438.7L638.6 439.7L639.7 440.7L640.8 441.6L642.1 442.4L643.3 443.2L644.5 443.8L645.8 444.5L647.1 445.0L648.4 445.4L649.8 445.8L651.1 446.0L652.4 446.1L653.8 446.1L655.1 446.0L656.4 445.8L657.8 445.5L659.1 445.1L660.3 444.6L661.6 444.0L662.8 443.3L664.1 442.5L665.2 441.7L666.4 440.8L667.5 439.9L668.6 438.9L669.7 437.8L670.7 436.7L671.6 435.6L672.6 434.5L673.5 433.3L674.4 432.0L675.2 430.8L676.0 429.5L676.8 428.2L677.6 426.8L678.3 425.5L679.0 424.1L679.8 422.7L680.4 421.3L681.1 419.9L681.8 418.4L682.4 417.0L683.1 415.6L683.7 414.1L684.3 412.7L684.9 411.3L685.5 409.8L686.1 408.4L686.7 407.0L687.3 405.5L687.9 404.1L688.4 402.7L689.0 401.2L689.6 399.8L690.1 398.4L690.7 396.9L691.2 395.5L691.7 394.1L692.3 392.6L692.8 391.2L693.3 389.8L693.8 388.4L694.4 386.9L694.9 385.5L695.4 384.1L695.9 382.6L696.4 381.2L696.8 379.8L697.3 378.4L697.8 376.9L698.3 375.5L698.8 374.1L699.2 372.7L699.7 371.2L700.2 369.8L700.7 368.4L701.1 366.9L701.6 365.5L702.0 364.1L702.5 362.7L703.0 361.2L703.4 359.8L703.9 358.4L704.3 357.0L704.8 355.6L705.2 354.1L705.7 352.7L706.1 351.3L706.6 349.9L707.0 348.4L707.5 347.0L707.9 345.6L708.4 344.2L708.8 342.8L709.3 341.3L709.7 339.9L710.2 338.5L710.6 337.1L711.1 335.6L711.5 334.2L712.0 332.8L712.4 331.4L712.9 330.0L713.4 328.5L713.8 327.1L714.3 325.7L714.7 324.3L715.2 322.9L715.6 321.4L716.1 320.0L716.5 318.6L717.0 317.2L717.5 315.8L717.9 314.3L718.4 312.9L718.8 311.5L719.3 310.1L719.8 308.7L720.2 307.2L720.7 305.8L721.1 304.4L721.6 303.0L722.1 301.6L722.5 300.1L723.0 298.7L723.4 297.3L723.9 295.9L724.4 294.4L724.8 293.0L725.3 291.6L725.7 290.2L726.2 288.8L726.7 287.3L727.1 285.9L727.6 284.5L728.1 283.1L728.5 281.6L729.0 280.2L729.5 278.8L729.9 277.4L730.4 275.9L730.8 274.5L731.3 273.1L731.8 271.7L732.2 270.2L732.7 268.8L733.2 267.4L733.6 266.0L734.1 264.5L734.6 263.1L735.0 261.7L735.5 260.3L736.0 258.8L736.4 257.4L736.9 256.0L737.4 254.5L737.8 253.1L738.3 251.7L738.7 250.2L739.2 248.8L739.7 247.4L740.1 245.9L740.6 244.5L741.1 243.1L741.5 241.6L742.0 240.2L742.5 238.8L742.9 237.3L743.4 235.9L743.9 234.5L744.3 233.0L744.8 231.6L745.3 230.1L745.7 228.7L746.2 227.3L746.6 225.8L747.1 224.4L747.6 222.9L748.0 221.5L748.5 220.0L749.0 218.6L749.4 217.2L749.9 215.7L750.4 214.3L750.8 212.8L751.3 211.4L751.7 209.9L752.2 208.5L752.7 207.0L753.1 205.6L753.6 204.1L754.0 202.7L754.5 201.2L755.0 199.8L755.4 198.3L755.9 196.8L756.4 195.4L756.8 193.9L757.3 192.5L757.7 191.0L758.2 189.6L758.7 188.1L759.2 186.7L759.6 185.2L760.1 183.8L760.6 182.3L761.1 180.9L761.6 179.4L762.1 178.0L762.6 176.6L763.1 175.1L763.6 173.7L764.1 172.3L764.6 170.9L765.1 169.4L765.7 168.0L766.2 166.6L766.7 165.2L767.3 163.8L767.9 162.4L768.4 161.0L769.0 159.6L769.6 158.3L770.2 156.9L770.8 155.5L771.4 154.1L772.0 152.8L772.6 151.4L773.3 150.1L773.9 148.8L774.6 147.4L775.2 146.1L775.9 144.8L776.6 143.5L777.3 142.2L778.0 140.9L778.7 139.6L779.5 138.4L780.2 137.1L781.0 135.9L781.8 134.6L782.6 133.4L783.4 132.2L784.2 130.9L785.0 129.7L785.9 128.6L786.7 127.4L787.6 126.2L788.5 125.0L789.4 123.9L790.3 122.8L791.3 121.6L792.2 120.5L793.2 119.4L794.2 118.3L795.2 117.3L796.2 116.2L797.3 115.2L798.3 114.1L799.4 113.1L800.5 112.1L801.6 111.1L802.8 110.1L803.9 109.2L805.1 108.2L806.3 107.3L807.5 106.4L808.7 105.5L810.0 104.6L811.3 103.7L812.6 102.8L813.9 102.0L815.3 101.2L816.6 100.4" fill="none" stroke="#767676" stroke-width="3.5"/>
<path d="M148.3 160.7L149.7 160.3L151.2 159.9L152.6 159.5L154.1 159.2L155.5 158.9L157.0 158.6L158.4 158.4L159.9 158.2L161.4 158.0L162.8 157.9L164.3 157.7L165.8 157.6L167.3 157.6L168.7 157.5L170.2 157.5L171.7 157.5L173.2 157.5L174.7 157.6L176.2 157.7L177.7 157.8L179.2 157.9L180.7 158.0L182.2 158.1L183.7 158.3L185.2 158.5L186.7 158.7L188.2 158.9L189.7 159.1L191.2 159.3L192.7 159.5L194.2 159.8L195.7 160.1L197.2 160.3L198.7 160.6L200.2 160.9L201.7 161.2L203.2 161.5L204.7 161.8L206.2 162.1L207.7 162.4L209.2 162.7L210.8 163.0L212.3 163.3L213.8 163.6L215.3 163.9L216.8 164.2L218.3 164.5L219.8 164.8L221.3 165.1L222.8 165.4L224.3 165.7L225.8 165.9L227.3 166.2L228.8 166.4L230.3 166.7L231.8 166.9L233.3 167.1L234.7 167.3L236.2 167.5L237.7 167.7L239.2 167.8L240.7 168.0L242.2 168.1L243.6 168.2L245.1 168.3L246.6 168.4L248.0 168.4L249.5 168.5L251.0 168.5L252.4 168.4L253.9 168.4L255.3 168.3L256.8 168.2L258.2 168.1L259.7 168.0L261.1 167.8L262.5 167.6L264.0 167.3L265.4 167.1L266.8 166.8L268.2 166.5L269.6 166.1L271.0 165.7L272.5 165.3L273.9 164.9L275.3 164.5L276.7 164.0L278.0 163.5L279.4 163.0L280.8 162.4L282.2 161.9L283.6 161.3L285.0 160.7L286.3 160.1L287.7 159.5L289.1 158.8L290.4 158.2L291.8 157.5L293.2 156.8L294.5 156.1L295.9 155.4L297.2 154.7L298.6 154.0L299.9 153.3L301.3 152.5L302.6 151.8L304.0 151.0L305.3 150.3L306.6 149.5L308.0 148.8L309.3 148.0L310.6 147.2L311.9 146.5L313.3 145.7L314.6 144.9L315.9 144.2L317.2 143.4L318.6 142.7L319.9 141.9L321.2 141.1L322.5 140.4L323.8 139.7L325.1 138.9L326.4 138.2L327.8 137.4L329.1 136.7L330.4 136.0L331.7 135.3L333.0 134.6L334.3 133.9L335.7 133.2L337.0 132.5L338.3 131.8L339.6 131.1L340.9 130.4L342.3 129.8L343.6 129.1L344.9 128.4L346.2 127.8L347.6 127.2L348.9 126.5L350.3 125.9L351.6 125.3L353.0 124.7L354.3 124.1L355.7 123.5L357.0 123.0L358.4 122.4L359.7 121.9L361.1 121.3L362.5 120.8L363.9 120.3L365.3 119.8L366.6 119.3L368.0 118.8L369.4 118.3L370.9 117.9L372.3 117.4L373.7 117.0L375.1 116.6L376.5 116.2L378.0 115.8L379.4 115.4L380.9 115.0L382.3 114.7L383.8 114.3L385.3 114.0L386.7 113.7L388.2 113.4L389.7 113.1L391.2 112.8L392.7 112.5L394.1 112.2L395.6 112.0L397.1 111.7L398.7 111.5L400.2 111.2L401.7 111.0L403.2 110.8L404.7 110.6L406.3 110.4L407.8 110.2L409.3 110.0L410.9 109.8L412.4 109.6L414.0 109.5L415.5 109.3L417.1 109.1L418.6 109.0L420.2 108.9L421.7 108.7L423.3 108.6L424.8 108.6L426.4 108.5L427.9 108.5L429.4 108.5L431.0 108.5L432.5 108.6L434.0 108.7L435.5 108.8L437.0 109.0L438.4 109.2L439.9 109.5L441.3 109.8L442.7 110.2L444.1 110.6L445.5 111.1L446.9 111.6L448.2 112.2L449.6 112.8L450.9 113.4L452.2 114.1L453.5 114.9L454.7 115.6L456.0 116.4L457.2 117.2L458.4 118.1L459.6 119.0L460.8 119.9L461.9 120.8L463.1 121.8L464.2 122.8L465.3 123.8L466.4 124.8L467.5 125.8L468.5 126.9L469.6 127.9L470.6 129.0L471.6 130.1L472.6 131.2L473.6 132.3L474.6 133.5L475.5 134.6L476.4 135.8L477.4 136.9L478.3 138.1L479.1 139.3L480.0 140.5L480.9 141.7L481.7 143.0L482.6 144.2L483.4 145.5L484.2 146.7L485.0 148.0L485.8 149.3L486.6 150.5L487.4 151.8L488.1 153.1L488.9 154.4L489.6 155.8L490.4 157.1L491.1 158.4L491.8 159.7L492.5 161.1L493.2 162.4L493.9 163.8L494.6 165.1L495.2 166.5L495.9 167.9L496.6 169.2L497.2 170.6L497.9 172.0L498.5 173.4L499.1 174.8L499.8 176.1L500.4 177.5L501.0 178.9L501.6 180.3L502.2 181.7L502.8 183.1L503.4 184.5L504.1 185.9L504.6 187.3L505.2 188.7L505.8 190.1L506.4 191.5L507.0 192.9L507.6 194.3L508.2 195.7L508.8 197.1L509.3 198.5L509.9 199.9L510.5 201.3L511.0 202.7L511.6 204.1L512.2 205.5L512.7 206.9L513.3 208.3L513.8 209.7L514.4 211.1L514.9 212.5L515.5 213.9L516.0 215.3L516.6 216.7L517.1 218.1L517.6 219.6L518.2 221.0L518.7 222.4L519.2 223.8L519.8 225.2L520.3 226.6L520.8 228.0L521.3 229.4L521.8 230.8L522.4 232.2L522.9 233.6L523.4 235.1L523.9 236.5L524.4 237.9L524.9 239.3L525.4 240.7L525.9 242.1L526.4 243.5L526.9 244.9L527.4 246.4L527.9 247.8L528.4 249.2L528.9 250.6L529.4 252.0L529.9 253.4L530.4 254.9L530.9 256.3L531.4 257.7L531.8 259.1L532.3 260.5L532.8 261.9L533.3 263.4L533.8 264.8L534.2 266.2L534.7 267.6L535.2 269.0L535.7 270.5L536.1 271.9L536.6 273.3L537.1 274.7L537.6 276.2L538.0 277.6L538.5 279.0L539.0 280.4L539.4 281.9L539.9 283.3L540.4 284.7L540.8 286.1L541.3 287.6L541.7 289.0L542.2 290.4L542.7 291.9L543.1 293.3L543.6 294.7L544.0 296.1L544.5 297.6L545.0 299.0L545.4 300.4L545.9 301.9L546.3 303.3L546.8 304.7L547.3 306.2L547.7 307.6L548.2 309.0L548.6 310.5L549.1 311.9L549.5 313.4L550.0 314.8L550.4 316.2L550.9 317.7L551.4 319.1L551.8 320.5L552.3 322.0L552.7 323.4L553.2 324.9L553.6 326.3L554.1 327.7L554.5 329.2L555.0 330.6L555.5 332.1L555.9 333.5L556.4 335.0L556.8 336.4L557.3 337.8L557.7 339.3L558.2 340.7L558.6 342.2L559.1 343.6L559.6 345.1L560.0 346.5L560.5 347.9L560.9 349.4L561.4 350.8L561.8 352.3L562.3 353.7L562.7 355.2L563.2 356.6L563.6 358.1L564.1 359.5L564.5 360.9L565.0 362.4L565.4 363.8L565.9 365.3L566.4 366.7L566.8 368.2L567.3 369.6L567.7 371.0L568.2 372.5L568.6 373.9L569.1 375.4L569.5 376.8L570.0 378.2L570.4 379.7L570.8 381.1L571.3 382.6L571.7 384.0L572.2 385.4L572.6 386.9L573.1 388.3L573.5 389.8L574.0 391.2L574.4 392.6L574.9 394.1L575.3 395.5L575.8 396.9L576.2 398.4L576.6 399.8L577.1 401.2L577.5 402.6L578.0 404.1L578.4 405.5L578.9 406.9L579.3 408.4L579.7 409.8L580.2 411.2L580.6 412.6L581.0 414.1L581.5 415.5L581.9 416.9L582.4 418.3L582.8 419.7L583.2 421.2L583.7 422.6L584.1 424.0L584.6 425.4L585.0 426.8L585.5 428.3L585.9 429.7L586.4 431.1L586.8 432.5L587.3 433.9L587.7 435.3L588.2 436.7L588.7 438.2L589.1 439.6L589.6 441.0L590.1 442.4L590.6 443.8L591.0 445.2L591.5 446.6L592.0 448.0L592.5 449.4L593.1 450.9L593.6 452.3L594.1 453.7L594.6 455.1L595.2 456.5L595.7 457.9L596.2 459.3L596.8 460.7L597.4 462.1L597.9 463.6L598.5 465.0L599.1 466.4L599.7 467.8L600.3 469.2L600.9 470.6L601.6 472.0L602.2 473.4L602.8 474.9L603.5 476.3L604.2 477.7L604.8 479.1L605.5 480.5L606.2 481.9L607.0 483.3L607.7 484.7L608.4 486.0L609.2 487.4L610.0 488.7L610.8 490.0L611.6 491.3L612.5 492.6L613.3 493.9L614.2 495.1L615.1 496.3L616.1 497.5L617.0 498.6L618.0 499.7L619.0 500.8L620.0 501.8L621.1 502.8L622.2 503.8L623.3 504.7L624.4 505.6L625.6 506.4L626.8 507.2L628.1 508.0L629.3 508.6L630.6 509.3L632.0 509.9L633.4 510.4L634.7 510.8L636.1 511.2L637.6 511.5L639.0 511.8L640.4 511.9L641.8 512.0L643.2 511.9L644.6 511.8L646.0 511.5L647.3 511.2L648.6 510.7L649.9 510.2L651.1 509.5L652.3 508.7L653.5 507.8L654.6 506.9L655.7 505.9L656.8 504.8L657.8 503.6L658.9 502.5L659.9 501.2L660.8 499.9L661.8 498.6L662.7 497.3L663.6 496.0L664.5 494.6L665.4 493.3L666.2 492.0L667.1 490.6L667.9 489.3L668.7 488.0L669.5 486.7L670.3 485.3L671.0 484.0L671.8 482.7L672.5 481.3L673.2 480.0L674.0 478.7L674.7 477.4L675.3 476.0L676.0 474.7L676.7 473.4L677.3 472.0L678.0 470.7L678.6 469.4L679.3 468.0L679.9 466.7L680.5 465.3L681.1 464.0L681.7 462.6L682.3 461.3L682.9 459.9L683.5 458.6L684.1 457.2L684.7 455.8L685.3 454.5L685.9 453.1L686.4 451.7L687.0 450.4L687.6 449.0L688.1 447.6L688.7 446.2L689.2 444.8L689.8 443.4L690.3 442.0L690.9 440.6L691.4 439.2L692.0 437.8L692.5 436.4L693.0 435.0L693.6 433.6L694.1 432.2L694.6 430.8L695.1 429.4L695.7 428.0L696.2 426.6L696.7 425.1L697.2 423.7L697.7 422.3L698.2 420.9L698.7 419.4L699.2 418.0L699.7 416.6L700.2 415.2L700.7 413.7L701.2 412.3L701.7 410.9L702.2 409.4L702.7 408.0L703.2 406.6L703.7 405.1L704.2 403.7L704.6 402.3L705.1 400.8L705.6 399.4L706.1 397.9L706.6 396.5L707.1 395.1L707.5 393.6L708.0 392.2L708.5 390.8L709.0 389.3L709.5 387.9L709.9 386.4L710.4 385.0L710.9 383.6L711.4 382.1L711.8 380.7L712.3 379.3L712.8 377.8L713.3 376.4L713.7 375.0L714.2 373.5L714.7 372.1L715.2 370.7L715.7 369.2L716.1 367.8L716.6 366.4L717.1 365.0L717.6 363.5L718.1 362.1L718.6 360.7L719.0 359.3L719.5 357.8L720.0 356.4L720.5 355.0L721.0 353.6L721.5 352.2L722.0 350.8L722.4 349.4L722.9 347.9L723.4 346.5L723.9 345.1L724.4 343.7L724.9 342.3L725.4 340.9L725.9 339.5L726.4 338.1L726.9 336.7L727.3 335.3L727.8 333.8L728.3 332.4L728.8 331.0L729.3 329.6L729.8 328.2L730.3 326.8L730.8 325.4L731.3 324.0L731.8 322.6L732.3 321.2L732.8 319.8L733.2 318.4L733.7 316.9L734.2 315.5L734.7 314.1L735.2 312.7L735.7 311.3L736.2 309.9L736.7 308.5L737.1 307.1L737.6 305.6L738.1 304.2L738.6 302.8L739.1 301.4L739.6 300.0L740.0 298.5L740.5 297.1L741.0 295.7L741.5 294.3L742.0 292.8L742.4 291.4L742.9 290.0L743.4 288.6L743.9 287.1L744.3 285.7L744.8 284.3L745.3 282.8L745.7 281.4L746.2 279.9L746.7 278.5L747.1 277.0L747.6 275.6L748.1 274.1L748.5 272.7L749.0 271.2L749.4 269.8L749.9 268.3L750.4 266.9L750.8 265.4L751.3 264.0L751.8 262.5L752.2 261.1L752.7 259.6L753.2 258.2L753.6 256.7L754.1 255.3L754.6 253.8L755.1 252.4L755.6 250.9L756.0 249.5L756.5 248.0L757.0 246.6L757.5 245.1L758.0 243.7L758.5 242.3L759.0 240.8L759.6 239.4L760.1 238.0L760.6 236.5L761.1 235.1L761.7 233.7L762.2 232.3L762.7 230.9L763.3 229.5L763.9 228.1L764.4 226.7L765.0 225.3L765.6 223.9L766.2 222.5L766.7 221.1L767.3 219.7L768.0 218.3L768.6 217.0L769.2 215.6L769.8 214.3L770.5 212.9L771.1 211.6L771.8 210.2L772.4 208.9L773.1 207.6L773.8 206.2L774.5 204.9L775.2 203.6L775.9 202.3L776.7 201.0L777.4 199.8L778.1 198.5L778.9 197.2L779.7 195.9L780.5 194.7L781.2 193.4L782.1 192.2L782.9 191.0L783.7 189.8L784.5 188.5L785.4 187.3L786.3 186.1L787.2 185.0L788.1 183.8L789.0 182.6L789.9 181.5L790.8 180.3L791.8 179.2L792.7 178.1L793.7 177.0L794.7 175.8L795.7 174.8L796.8 173.7L797.8 172.6L798.9 171.5L799.9 170.5L801.0 169.5L802.1 168.4L803.3 167.4L804.4 166.4L805.5 165.4L806.7 164.5L807.9 163.5L809.1 162.5L810.3 161.6L811.6 160.7L812.9 159.8L814.1 158.9L815.4 158.0L816.8 157.1" fill="none" stroke="#000" stroke-width="3.6" stroke-dasharray="20.5 8.5"/>
<path d="M148.1 147.5L149.6 147.3L151.1 147.2L152.6 147.0L154.1 146.9L155.5 146.8L157.0 146.8L158.5 146.7L160.0 146.7L161.5 146.7L163.0 146.7L164.5 146.8L166.0 146.8L167.5 146.9L169.0 147.0L170.4 147.1L171.9 147.2L173.4 147.4L174.9 147.5L176.4 147.7L177.8 147.9L179.3 148.1L180.8 148.3L182.3 148.5L183.8 148.7L185.2 149.0L186.7 149.2L188.2 149.5L189.7 149.7L191.1 150.0L192.6 150.3L194.1 150.6L195.6 150.9L197.0 151.2L198.5 151.5L200.0 151.8L201.4 152.1L202.9 152.4L204.4 152.7L205.9 153.0L207.3 153.3L208.8 153.6L210.3 153.9L211.7 154.2L213.2 154.5L214.7 154.8L216.2 155.1L217.6 155.4L219.1 155.7L220.6 156.0L222.0 156.3L223.5 156.6L225.0 156.8L226.5 157.1L227.9 157.3L229.4 157.6L230.9 157.8L232.3 158.0L233.8 158.2L235.3 158.4L236.8 158.6L238.2 158.8L239.7 158.9L241.2 159.1L242.7 159.2L244.2 159.3L245.6 159.4L247.1 159.5L248.6 159.5L250.1 159.5L251.6 159.6L253.0 159.6L254.5 159.5L256.0 159.5L257.5 159.4L259.0 159.3L260.5 159.2L262.0 159.1L263.4 158.9L264.9 158.8L266.4 158.5L267.9 158.3L269.4 158.1L270.9 157.8L272.4 157.5L273.9 157.2L275.4 156.8L276.9 156.5L278.4 156.1L279.9 155.7L281.3 155.3L282.8 154.8L284.3 154.4L285.8 153.9L287.2 153.5L288.7 153.0L290.2 152.5L291.6 152.0L293.1 151.4L294.6 150.9L296.0 150.4L297.4 149.8L298.9 149.3L300.3 148.7L301.7 148.1L303.1 147.6L304.6 147.0L306.0 146.4L307.3 145.8L308.7 145.2L310.1 144.6L311.5 144.1L312.9 143.5L314.2 142.9L315.6 142.3L316.9 141.7L318.3 141.1L319.6 140.5L321.0 139.8L322.3 139.2L323.6 138.6L325.0 138.0L326.3 137.4L327.6 136.8L328.9 136.2L330.3 135.6L331.6 135.0L332.9 134.4L334.2 133.8L335.5 133.1L336.9 132.5L338.2 131.9L339.5 131.3L340.8 130.7L342.1 130.1L343.5 129.5L344.8 128.9L346.1 128.3L347.4 127.7L348.8 127.1L350.1 126.5L351.5 126.0L352.8 125.4L354.2 124.8L355.5 124.2L356.9 123.6L358.2 123.1L359.6 122.5L361.0 121.9L362.4 121.4L363.8 120.8L365.2 120.3L366.6 119.7L368.0 119.2L369.4 118.6L370.9 118.1L372.3 117.6L373.8 117.1L375.2 116.6L376.7 116.1L378.2 115.6L379.6 115.1L381.1 114.6L382.6 114.1L384.1 113.7L385.6 113.2L387.2 112.8L388.7 112.3L390.2 111.9L391.7 111.5L393.2 111.1L394.8 110.7L396.3 110.4L397.9 110.0L399.4 109.7L400.9 109.3L402.5 109.0L404.0 108.7L405.6 108.5L407.1 108.2L408.6 108.0L410.2 107.8L411.7 107.6L413.3 107.4L414.8 107.2L416.3 107.1L417.9 107.0L419.4 106.9L420.9 106.8L422.4 106.8L424.0 106.7L425.5 106.7L427.0 106.8L428.5 106.8L430.0 106.9L431.5 107.0L432.9 107.1L434.4 107.3L435.9 107.4L437.3 107.6L438.8 107.9L440.2 108.2L441.6 108.5L443.1 108.8L444.5 109.1L445.9 109.5L447.3 109.9L448.6 110.4L450.0 110.9L451.4 111.4L452.7 111.9L454.1 112.4L455.4 113.0L456.7 113.6L458.0 114.3L459.3 114.9L460.6 115.6L461.9 116.3L463.1 117.0L464.4 117.8L465.7 118.5L466.9 119.3L468.1 120.1L469.3 121.0L470.5 121.8L471.7 122.7L472.9 123.6L474.1 124.5L475.2 125.5L476.4 126.4L477.5 127.4L478.6 128.4L479.8 129.4L480.9 130.4L481.9 131.5L483.0 132.5L484.1 133.6L485.1 134.7L486.2 135.8L487.2 136.9L488.2 138.0L489.3 139.2L490.3 140.3L491.2 141.5L492.2 142.7L493.2 143.9L494.1 145.1L495.1 146.3L496.0 147.5L496.9 148.7L497.8 150.0L498.7 151.2L499.6 152.5L500.4 153.7L501.3 155.0L502.1 156.3L502.9 157.6L503.7 158.9L504.5 160.2L505.3 161.5L506.1 162.8L506.9 164.1L507.6 165.4L508.3 166.8L509.1 168.1L509.8 169.4L510.5 170.7L511.2 172.1L511.8 173.4L512.5 174.8L513.2 176.1L513.8 177.5L514.5 178.8L515.1 180.2L515.7 181.6L516.3 182.9L516.9 184.3L517.5 185.7L518.1 187.0L518.7 188.4L519.3 189.8L519.9 191.2L520.5 192.6L521.0 193.9L521.6 195.3L522.1 196.7L522.7 198.1L523.2 199.5L523.8 200.9L524.3 202.3L524.9 203.7L525.4 205.1L525.9 206.5L526.5 207.9L527.0 209.3L527.5 210.7L528.0 212.1L528.6 213.5L529.1 214.9L529.6 216.3L530.1 217.7L530.7 219.1L531.2 220.5L531.7 221.9L532.2 223.4L532.7 224.8L533.2 226.2L533.8 227.6L534.3 229.0L534.8 230.4L535.3 231.8L535.8 233.2L536.3 234.7L536.8 236.1L537.3 237.5L537.8 238.9L538.3 240.3L538.8 241.8L539.3 243.2L539.8 244.6L540.3 246.0L540.8 247.4L541.3 248.9L541.7 250.3L542.2 251.7L542.7 253.1L543.2 254.6L543.7 256.0L544.2 257.4L544.6 258.8L545.1 260.3L545.6 261.7L546.1 263.1L546.5 264.6L547.0 266.0L547.5 267.4L548.0 268.9L548.4 270.3L548.9 271.7L549.3 273.1L549.8 274.6L550.3 276.0L550.7 277.5L551.2 278.9L551.6 280.3L552.1 281.8L552.6 283.2L553.0 284.6L553.5 286.1L553.9 287.5L554.3 288.9L554.8 290.4L555.2 291.8L555.7 293.3L556.1 294.7L556.6 296.1L557.0 297.6L557.4 299.0L557.9 300.5L558.3 301.9L558.7 303.3L559.2 304.8L559.6 306.2L560.0 307.7L560.4 309.1L560.9 310.5L561.3 312.0L561.7 313.4L562.1 314.9L562.5 316.3L563.0 317.8L563.4 319.2L563.8 320.7L564.2 322.1L564.6 323.5L565.0 325.0L565.5 326.4L565.9 327.9L566.3 329.3L566.7 330.8L567.1 332.2L567.5 333.7L567.9 335.1L568.3 336.5L568.8 338.0L569.2 339.4L569.6 340.9L570.0 342.3L570.4 343.8L570.8 345.2L571.2 346.6L571.6 348.1L572.0 349.5L572.5 351.0L572.9 352.4L573.3 353.9L573.7 355.3L574.1 356.8L574.5 358.2L574.9 359.6L575.4 361.1L575.8 362.5L576.2 364.0L576.6 365.4L577.0 366.8L577.5 368.3L577.9 369.7L578.3 371.2L578.7 372.6L579.1 374.0L579.6 375.5L580.0 376.9L580.4 378.4L580.9 379.8L581.3 381.2L581.7 382.7L582.2 384.1L582.6 385.5L583.0 387.0L583.5 388.4L583.9 389.8L584.4 391.3L584.8 392.7L585.3 394.1L585.7 395.6L586.2 397.0L586.6 398.4L587.1 399.9L587.5 401.3L588.0 402.7L588.5 404.1L588.9 405.6L589.4 407.0L589.9 408.4L590.3 409.9L590.8 411.3L591.3 412.7L591.8 414.1L592.3 415.5L592.8 417.0L593.3 418.4L593.7 419.8L594.2 421.2L594.7 422.6L595.2 424.1L595.8 425.5L596.3 426.9L596.8 428.3L597.3 429.7L597.8 431.1L598.3 432.5L598.9 434.0L599.4 435.4L599.9 436.8L600.5 438.2L601.0 439.6L601.6 441.0L602.1 442.4L602.7 443.8L603.2 445.2L603.8 446.6L604.4 448.0L604.9 449.4L605.5 450.8L606.1 452.2L606.7 453.6L607.3 455.0L607.8 456.4L608.4 457.8L609.0 459.2L609.7 460.6L610.3 461.9L610.9 463.3L611.5 464.7L612.1 466.1L612.8 467.5L613.4 468.9L614.0 470.2L614.7 471.6L615.3 473.0L616.0 474.4L616.7 475.7L617.4 477.1L618.1 478.4L618.8 479.8L619.5 481.1L620.3 482.4L621.1 483.7L621.9 485.0L622.7 486.3L623.6 487.5L624.5 488.8L625.4 490.0L626.4 491.2L627.4 492.3L628.4 493.5L629.5 494.6L630.6 495.7L631.7 496.7L632.9 497.7L634.1 498.6L635.3 499.4L636.5 500.2L637.8 500.9L639.1 501.5L640.3 502.0L641.7 502.4L643.0 502.7L644.3 502.8L645.6 502.9L647.0 502.8L648.3 502.6L649.7 502.3L651.0 501.9L652.3 501.4L653.6 500.8L654.9 500.2L656.2 499.4L657.5 498.6L658.8 497.7L660.0 496.8L661.2 495.8L662.3 494.8L663.5 493.7L664.5 492.6L665.6 491.5L666.6 490.4L667.6 489.2L668.5 488.0L669.5 486.8L670.3 485.6L671.2 484.3L672.0 483.1L672.8 481.8L673.6 480.5L674.3 479.2L675.0 477.8L675.7 476.5L676.4 475.2L677.1 473.8L677.7 472.4L678.4 471.0L679.0 469.6L679.6 468.2L680.2 466.8L680.7 465.4L681.3 464.0L681.9 462.6L682.4 461.2L682.9 459.8L683.5 458.3L684.0 456.9L684.6 455.5L685.1 454.1L685.6 452.6L686.1 451.2L686.7 449.8L687.2 448.4L687.7 446.9L688.2 445.5L688.7 444.1L689.2 442.6L689.7 441.2L690.2 439.8L690.7 438.4L691.2 436.9L691.7 435.5L692.2 434.1L692.7 432.7L693.2 431.2L693.7 429.8L694.2 428.4L694.7 426.9L695.1 425.5L695.6 424.1L696.1 422.7L696.6 421.2L697.0 419.8L697.5 418.4L698.0 416.9L698.5 415.5L698.9 414.1L699.4 412.7L699.9 411.2L700.3 409.8L700.8 408.4L701.2 406.9L701.7 405.5L702.2 404.1L702.6 402.6L703.1 401.2L703.5 399.8L704.0 398.4L704.5 396.9L704.9 395.5L705.4 394.1L705.8 392.7L706.3 391.2L706.7 389.8L707.2 388.4L707.7 386.9L708.1 385.5L708.6 384.1L709.0 382.7L709.5 381.2L709.9 379.8L710.4 378.4L710.9 377.0L711.3 375.5L711.8 374.1L712.2 372.7L712.7 371.3L713.2 369.8L713.6 368.4L714.1 367.0L714.6 365.6L715.0 364.1L715.5 362.7L716.0 361.3L716.4 359.9L716.9 358.5L717.4 357.0L717.9 355.6L718.3 354.2L718.8 352.8L719.3 351.4L719.8 349.9L720.2 348.5L720.7 347.1L721.2 345.7L721.7 344.3L722.2 342.9L722.6 341.4L723.1 340.0L723.6 338.6L724.1 337.2L724.6 335.8L725.1 334.3L725.6 332.9L726.0 331.5L726.5 330.1L727.0 328.7L727.5 327.3L728.0 325.8L728.5 324.4L729.0 323.0L729.5 321.6L729.9 320.2L730.4 318.7L730.9 317.3L731.4 315.9L731.9 314.5L732.4 313.1L732.9 311.6L733.4 310.2L733.9 308.8L734.4 307.4L734.8 305.9L735.3 304.5L735.8 303.1L736.3 301.7L736.8 300.3L737.3 298.8L737.8 297.4L738.3 296.0L738.7 294.6L739.2 293.1L739.7 291.7L740.2 290.3L740.7 288.8L741.2 287.4L741.6 286.0L742.1 284.6L742.6 283.1L743.1 281.7L743.6 280.3L744.0 278.8L744.5 277.4L745.0 276.0L745.5 274.5L746.0 273.1L746.4 271.6L746.9 270.2L747.4 268.8L747.9 267.3L748.3 265.9L748.8 264.5L749.3 263.0L749.8 261.6L750.3 260.2L750.8 258.7L751.2 257.3L751.7 255.9L752.2 254.4L752.7 253.0L753.2 251.6L753.7 250.2L754.2 248.7L754.7 247.3L755.2 245.9L755.7 244.5L756.3 243.1L756.8 241.6L757.3 240.2L757.8 238.8L758.4 237.4L758.9 236.0L759.4 234.6L760.0 233.2L760.5 231.8L761.1 230.4L761.6 229.0L762.2 227.6L762.8 226.2L763.3 224.9L763.9 223.5L764.5 222.1L765.1 220.7L765.7 219.4L766.3 218.0L766.9 216.6L767.6 215.3L768.2 213.9L768.8 212.6L769.5 211.2L770.1 209.9L770.8 208.6L771.5 207.2L772.1 205.9L772.8 204.6L773.5 203.3L774.2 202.0L774.9 200.7L775.6 199.4L776.4 198.1L777.1 196.8L777.9 195.5L778.6 194.2L779.4 192.9L780.2 191.7L780.9 190.4L781.7 189.1L782.6 187.9L783.4 186.7L784.2 185.4L785.0 184.2L785.9 183.0L786.8 181.8L787.6 180.5L788.5 179.3L789.4 178.2L790.3 177.0L791.3 175.8L792.2 174.6L793.2 173.4L794.1 172.3L795.1 171.1L796.1 170.0L797.1 168.9L798.1 167.7L799.1 166.6L800.2 165.5L801.2 164.4L802.3 163.3L803.4 162.2L804.5 161.1L805.6 160.1L806.7 159.0L807.9 158.0L809.0 156.9L810.2 155.9L811.4 154.9L812.6 153.9L813.8 152.9" fill="none" stroke="#000" stroke-width="3.6" stroke-dasharray="3.6 7"/>
<path d="M148.0 156.4L149.5 156.0L150.9 155.6L152.4 155.2L153.9 154.8L155.3 154.5L156.8 154.3L158.3 154.0L159.8 153.8L161.2 153.7L162.7 153.5L164.2 153.4L165.7 153.3L167.2 153.3L168.7 153.2L170.2 153.2L171.7 153.2L173.2 153.3L174.7 153.3L176.2 153.4L177.6 153.5L179.2 153.5L180.7 153.7L182.2 153.8L183.7 153.9L185.2 154.0L186.7 154.2L188.2 154.3L189.7 154.5L191.2 154.6L192.7 154.8L194.2 154.9L195.7 155.1L197.2 155.2L198.7 155.3L200.2 155.5L201.7 155.6L203.2 155.7L204.8 155.8L206.3 155.9L207.8 156.0L209.3 156.1L210.8 156.1L212.3 156.1L213.8 156.1L215.3 156.1L216.8 156.1L218.3 156.1L219.8 156.1L221.3 156.0L222.8 155.9L224.3 155.8L225.8 155.8L227.3 155.6L228.7 155.5L230.2 155.4L231.7 155.2L233.2 155.1L234.7 154.9L236.2 154.7L237.7 154.6L239.2 154.4L240.7 154.1L242.2 153.9L243.6 153.7L245.1 153.5L246.6 153.2L248.1 153.0L249.6 152.7L251.1 152.5L252.5 152.2L254.0 151.9L255.5 151.6L257.0 151.3L258.5 151.1L259.9 150.8L261.4 150.5L262.9 150.1L264.4 149.8L265.9 149.5L267.3 149.2L268.8 148.9L270.3 148.6L271.8 148.2L273.2 147.9L274.7 147.6L276.2 147.2L277.7 146.9L279.1 146.6L280.6 146.2L282.1 145.9L283.6 145.5L285.0 145.2L286.5 144.8L288.0 144.5L289.4 144.1L290.9 143.7L292.4 143.4L293.8 143.0L295.3 142.6L296.7 142.2L298.2 141.9L299.7 141.5L301.1 141.1L302.6 140.7L304.0 140.3L305.5 139.9L306.9 139.4L308.4 139.0L309.8 138.6L311.2 138.2L312.7 137.7L314.1 137.3L315.6 136.9L317.0 136.4L318.4 135.9L319.8 135.5L321.3 135.0L322.7 134.5L324.1 134.1L325.5 133.6L326.9 133.1L328.4 132.6L329.8 132.1L331.2 131.6L332.6 131.0L334.0 130.5L335.4 130.0L336.8 129.4L338.2 128.9L339.5 128.3L340.9 127.8L342.3 127.2L343.7 126.6L345.1 126.0L346.4 125.4L347.8 124.8L349.2 124.2L350.5 123.6L351.9 123.0L353.2 122.3L354.6 121.7L356.0 121.1L357.3 120.4L358.7 119.8L360.0 119.1L361.4 118.5L362.7 117.9L364.1 117.2L365.4 116.6L366.8 115.9L368.2 115.3L369.5 114.7L370.9 114.1L372.3 113.4L373.7 112.8L375.0 112.2L376.4 111.6L377.8 111.0L379.2 110.5L380.6 109.9L382.0 109.3L383.5 108.8L384.9 108.2L386.3 107.7L387.8 107.2L389.2 106.7L390.6 106.2L392.1 105.8L393.6 105.3L395.0 104.9L396.5 104.5L398.0 104.1L399.4 103.7L400.9 103.4L402.4 103.1L403.9 102.8L405.4 102.5L406.8 102.3L408.3 102.0L409.8 101.9L411.3 101.7L412.8 101.6L414.2 101.5L415.7 101.4L417.2 101.3L418.7 101.3L420.1 101.4L421.6 101.4L423.1 101.5L424.5 101.7L426.0 101.8L427.4 102.0L428.8 102.3L430.3 102.6L431.7 102.9L433.1 103.2L434.6 103.5L436.0 103.9L437.4 104.3L438.9 104.7L440.3 105.1L441.7 105.6L443.1 106.0L444.6 106.5L446.0 107.0L447.4 107.4L448.9 107.9L450.3 108.4L451.8 108.8L453.2 109.3L454.7 109.8L456.1 110.2L457.6 110.7L459.0 111.1L460.5 111.6L462.0 112.1L463.4 112.6L464.9 113.1L466.3 113.6L467.7 114.1L469.2 114.6L470.6 115.1L472.0 115.7L473.4 116.2L474.8 116.8L476.2 117.4L477.6 118.0L479.0 118.6L480.3 119.2L481.7 119.9L483.0 120.6L484.3 121.3L485.6 122.1L486.9 122.8L488.1 123.6L489.4 124.4L490.6 125.3L491.8 126.2L493.0 127.1L494.1 128.0L495.3 128.9L496.4 129.9L497.5 130.9L498.6 131.9L499.7 132.9L500.8 134.0L501.9 135.0L502.9 136.1L503.9 137.2L504.9 138.3L505.9 139.5L506.9 140.6L507.9 141.8L508.9 142.9L509.8 144.1L510.8 145.3L511.7 146.5L512.6 147.7L513.5 148.9L514.4 150.1L515.3 151.4L516.2 152.6L517.1 153.8L517.9 155.1L518.8 156.3L519.6 157.6L520.5 158.8L521.3 160.1L522.1 161.4L522.9 162.6L523.7 163.9L524.5 165.2L525.3 166.5L526.1 167.7L526.9 169.0L527.6 170.3L528.4 171.6L529.1 172.9L529.9 174.2L530.6 175.5L531.3 176.9L532.0 178.2L532.8 179.5L533.5 180.8L534.2 182.1L534.9 183.5L535.5 184.8L536.2 186.1L536.9 187.5L537.6 188.8L538.2 190.2L538.9 191.5L539.5 192.9L540.1 194.2L540.8 195.6L541.4 197.0L542.0 198.3L542.7 199.7L543.3 201.1L543.9 202.4L544.5 203.8L545.1 205.2L545.7 206.6L546.2 208.0L546.8 209.3L547.4 210.7L548.0 212.1L548.5 213.5L549.1 214.9L549.7 216.3L550.2 217.7L550.8 219.1L551.3 220.5L551.8 221.9L552.4 223.3L552.9 224.7L553.4 226.1L554.0 227.6L554.5 229.0L555.0 230.4L555.5 231.8L556.0 233.2L556.5 234.7L557.0 236.1L557.5 237.5L558.0 238.9L558.5 240.4L559.0 241.8L559.5 243.2L560.0 244.6L560.5 246.1L561.0 247.5L561.5 248.9L561.9 250.4L562.4 251.8L562.9 253.2L563.4 254.7L563.8 256.1L564.3 257.6L564.8 259.0L565.2 260.4L565.7 261.9L566.2 263.3L566.6 264.8L567.1 266.2L567.6 267.6L568.0 269.1L568.5 270.5L568.9 272.0L569.4 273.4L569.9 274.9L570.3 276.3L570.8 277.7L571.2 279.2L571.7 280.6L572.1 282.1L572.6 283.5L573.1 284.9L573.5 286.4L574.0 287.8L574.4 289.3L574.9 290.7L575.3 292.1L575.8 293.6L576.3 295.0L576.7 296.5L577.2 297.9L577.7 299.3L578.1 300.8L578.6 302.2L579.1 303.6L579.5 305.1L580.0 306.5L580.5 307.9L581.0 309.3L581.4 310.8L581.9 312.2L582.4 313.6L582.9 315.0L583.4 316.5L583.9 317.9L584.3 319.3L584.8 320.7L585.3 322.1L585.8 323.5L586.3 325.0L586.8 326.4L587.3 327.8L587.8 329.2L588.3 330.6L588.8 332.0L589.3 333.4L589.8 334.9L590.3 336.3L590.8 337.7L591.3 339.1L591.8 340.5L592.3 341.9L592.7 343.3L593.2 344.7L593.7 346.2L594.2 347.6L594.7 349.0L595.2 350.4L595.7 351.8L596.2 353.2L596.7 354.6L597.2 356.1L597.6 357.5L598.1 358.9L598.6 360.3L599.1 361.7L599.6 363.2L600.0 364.6L600.5 366.0L601.0 367.4L601.4 368.8L601.9 370.3L602.4 371.7L602.8 373.1L603.3 374.6L603.7 376.0L604.2 377.4L604.6 378.9L605.1 380.3L605.5 381.7L606.0 383.2L606.4 384.6L606.8 386.1L607.2 387.5L607.7 389.0L608.1 390.4L608.5 391.9L608.9 393.3L609.3 394.8L609.8 396.2L610.2 397.7L610.6 399.1L611.0 400.6L611.4 402.0L611.9 403.5L612.3 404.9L612.7 406.4L613.2 407.8L613.6 409.3L614.1 410.7L614.6 412.2L615.0 413.6L615.5 415.0L616.0 416.5L616.5 417.9L617.0 419.3L617.5 420.7L618.0 422.2L618.6 423.6L619.1 425.0L619.7 426.4L620.3 427.8L620.9 429.2L621.5 430.5L622.1 431.9L622.8 433.3L623.5 434.7L624.1 436.0L624.8 437.4L625.6 438.7L626.3 440.0L627.1 441.4L627.8 442.7L628.6 444.0L629.5 445.3L630.3 446.6L631.2 447.9L632.1 449.2L633.0 450.4L634.0 451.7L634.9 452.9L635.9 454.2L637.0 455.3L638.0 456.5L639.1 457.6L640.2 458.7L641.3 459.7L642.4 460.7L643.6 461.6L644.7 462.4L645.9 463.2L647.1 463.8L648.3 464.4L649.6 464.8L650.8 465.2L652.1 465.5L653.4 465.6L654.6 465.7L655.9 465.7L657.2 465.6L658.5 465.3L659.7 465.0L661.0 464.6L662.2 464.1L663.4 463.6L664.6 462.9L665.7 462.2L666.9 461.4L668.0 460.5L669.1 459.5L670.2 458.5L671.3 457.4L672.3 456.3L673.3 455.1L674.3 453.8L675.3 452.6L676.3 451.3L677.2 449.9L678.1 448.6L679.0 447.2L679.9 445.8L680.8 444.3L681.6 442.9L682.5 441.5L683.3 440.0L684.1 438.6L684.8 437.2L685.6 435.8L686.3 434.4L687.1 433.0L687.8 431.7L688.5 430.3L689.2 429.0L689.9 427.6L690.6 426.3L691.2 425.0L691.9 423.6L692.5 422.3L693.2 421.0L693.8 419.6L694.5 418.3L695.1 417.0L695.7 415.6L696.4 414.3L697.0 412.9L697.6 411.5L698.2 410.2L698.8 408.8L699.5 407.5L700.1 406.1L700.7 404.7L701.3 403.3L701.9 402.0L702.5 400.6L703.0 399.2L703.6 397.8L704.2 396.4L704.8 395.1L705.4 393.7L705.9 392.3L706.5 390.9L707.1 389.5L707.6 388.1L708.2 386.7L708.7 385.3L709.3 383.9L709.8 382.5L710.4 381.1L710.9 379.7L711.5 378.3L712.0 376.9L712.5 375.5L713.1 374.1L713.6 372.6L714.1 371.2L714.6 369.8L715.2 368.4L715.7 367.0L716.2 365.6L716.7 364.1L717.2 362.7L717.7 361.3L718.2 359.9L718.7 358.5L719.3 357.0L719.8 355.6L720.3 354.2L720.8 352.8L721.2 351.4L721.7 349.9L722.2 348.5L722.7 347.1L723.2 345.7L723.7 344.2L724.2 342.8L724.7 341.4L725.2 340.0L725.6 338.5L726.1 337.1L726.6 335.7L727.1 334.3L727.5 332.9L728.0 331.4L728.5 330.0L729.0 328.6L729.4 327.2L729.9 325.7L730.4 324.3L730.8 322.9L731.3 321.5L731.8 320.1L732.2 318.6L732.7 317.2L733.2 315.8L733.6 314.4L734.1 313.0L734.6 311.5L735.0 310.1L735.5 308.7L736.0 307.3L736.4 305.9L736.9 304.4L737.3 303.0L737.8 301.6L738.3 300.2L738.7 298.7L739.2 297.3L739.7 295.9L740.1 294.5L740.6 293.1L741.1 291.6L741.5 290.2L742.0 288.8L742.5 287.4L742.9 285.9L743.4 284.5L743.9 283.1L744.3 281.7L744.8 280.2L745.3 278.8L745.7 277.4L746.2 276.0L746.7 274.5L747.1 273.1L747.6 271.7L748.1 270.2L748.6 268.8L749.1 267.4L749.5 265.9L750.0 264.5L750.5 263.1L751.0 261.7L751.5 260.2L752.0 258.8L752.5 257.3L752.9 255.9L753.4 254.5L753.9 253.0L754.4 251.6L754.9 250.2L755.4 248.7L755.9 247.3L756.4 245.9L757.0 244.4L757.5 243.0L758.0 241.5L758.5 240.1L759.0 238.7L759.6 237.2L760.1 235.8L760.6 234.4L761.2 233.0L761.7 231.6L762.3 230.1L762.8 228.7L763.4 227.3L764.0 225.9L764.6 224.5L765.2 223.1L765.7 221.7L766.3 220.3L766.9 218.9L767.6 217.5L768.2 216.2L768.8 214.8L769.5 213.4L770.1 212.1L770.8 210.7L771.4 209.3L772.1 208.0L772.8 206.7L773.5 205.3L774.2 204.0L774.9 202.7L775.6 201.4L776.3 200.1L777.1 198.8L777.8 197.5L778.6 196.2L779.4 195.0L780.2 193.7L781.0 192.5L781.8 191.2L782.6 190.0L783.4 188.8L784.3 187.5L785.1 186.3L786.0 185.1L786.9 184.0L787.8 182.8L788.7 181.6L789.6 180.5L790.6 179.3L791.5 178.2L792.5 177.1L793.5 176.0L794.5 174.9L795.5 173.8L796.6 172.8L797.6 171.7L798.7 170.7L799.8 169.7L800.9 168.6L802.0 167.6L803.1 166.7L804.2 165.7L805.4 164.7L806.6 163.8L807.8 162.9L809.0 162.0L810.3 161.1L811.5 160.2L812.8 159.3L814.1 158.5L815.4 157.6L816.7 156.8" fill="none" stroke="#000" stroke-width="3.6"/>
<path d="M148.9 1025.5H816.2" stroke="#000" stroke-width="2.8" stroke-dasharray="21 8.4" fill="none"/>
<path d="M148.3 1024.2L149.8 1024.5L151.3 1024.8L152.7 1025.1L154.2 1025.4L155.7 1025.7L157.2 1026.0L158.6 1026.3L160.1 1026.6L161.6 1027.0L163.0 1027.3L164.5 1027.6L166.0 1028.0L167.5 1028.3L168.9 1028.7L170.4 1029.0L171.9 1029.4L173.3 1029.7L174.8 1030.1L176.3 1030.4L177.8 1030.8L179.2 1031.2L180.7 1031.5L182.2 1031.9L183.6 1032.3L185.1 1032.6L186.6 1033.0L188.0 1033.4L189.5 1033.8L191.0 1034.1L192.4 1034.5L193.9 1034.9L195.4 1035.3L196.8 1035.7L198.3 1036.0L199.8 1036.4L201.2 1036.8L202.7 1037.2L204.2 1037.6L205.6 1038.0L207.1 1038.4L208.6 1038.7L210.0 1039.1L211.5 1039.5L213.0 1039.9L214.4 1040.3L215.9 1040.7L217.4 1041.0L218.8 1041.4L220.3 1041.8L221.8 1042.2L223.2 1042.6L224.7 1042.9L226.2 1043.3L227.6 1043.7L229.1 1044.1L230.6 1044.4L232.0 1044.8L233.5 1045.2L235.0 1045.5L236.5 1045.9L237.9 1046.3L239.4 1046.6L240.9 1047.0L242.3 1047.3L243.8 1047.7L245.3 1048.0L246.8 1048.4L248.2 1048.7L249.7 1049.0L251.2 1049.4L252.6 1049.7L254.1 1050.0L255.6 1050.4L257.1 1050.7L258.5 1051.0L260.0 1051.3L261.5 1051.6L263.0 1051.9L264.5 1052.2L265.9 1052.5L267.4 1052.8L268.9 1053.1L270.4 1053.4L271.9 1053.7L273.3 1053.9L274.8 1054.2L276.3 1054.5L277.8 1054.7L279.3 1055.0L280.8 1055.2L282.2 1055.5L283.7 1055.7L285.2 1055.9L286.7 1056.2L288.2 1056.4L289.7 1056.6L291.2 1056.8L292.7 1057.0L294.2 1057.2L295.7 1057.4L297.1 1057.6L298.6 1057.8L300.1 1057.9L301.6 1058.1L303.1 1058.3L304.6 1058.4L306.1 1058.6L307.6 1058.8L309.1 1058.9L310.6 1059.0L312.1 1059.2L313.6 1059.3L315.1 1059.5L316.6 1059.6L318.1 1059.7L319.6 1059.8L321.1 1059.9L322.6 1060.0L324.1 1060.1L325.6 1060.2L327.1 1060.3L328.6 1060.4L330.1 1060.5L331.7 1060.6L333.2 1060.7L334.7 1060.7L336.2 1060.8L337.7 1060.9L339.2 1060.9L340.7 1061.0L342.2 1061.0L343.7 1061.1L345.2 1061.1L346.7 1061.2L348.2 1061.2L349.8 1061.2L351.3 1061.3L352.8 1061.3L354.3 1061.3L355.8 1061.3L357.3 1061.4L358.8 1061.4L360.3 1061.4L361.9 1061.4L363.4 1061.4L364.9 1061.4L366.4 1061.4L367.9 1061.4L369.4 1061.4L370.9 1061.4L372.5 1061.4L374.0 1061.3L375.5 1061.3L377.0 1061.3L378.5 1061.3L380.0 1061.2L381.6 1061.2L383.1 1061.2L384.6 1061.1L386.1 1061.1L387.6 1061.1L389.1 1061.0L390.7 1061.0L392.2 1060.9L393.7 1060.9L395.2 1060.8L396.7 1060.7L398.3 1060.7L399.8 1060.6L401.3 1060.6L402.8 1060.5L404.3 1060.4L405.8 1060.4L407.4 1060.3L408.9 1060.2L410.4 1060.1L411.9 1060.0L413.4 1060.0L415.0 1059.9L416.5 1059.8L418.0 1059.7L419.5 1059.6L421.0 1059.5L421.2 1059.4L433.9 1058.1L452.9 1051.6L470 1046.2L488.9 1041.2L508 1041.2L527 1049.4L546.5 1058.6L552 1059.4L567.3 1059.2L567.3 1059.4L568.5 1058.4L569.7 1057.3L570.8 1056.3L572.0 1055.2L573.1 1054.1L574.1 1053.0L575.1 1051.9L576.1 1050.7L577.1 1049.6L578.0 1048.4L578.9 1047.2L579.8 1046.0L580.7 1044.7L581.5 1043.5L582.3 1042.2L583.1 1041.0L583.8 1039.7L584.6 1038.4L585.3 1037.1L586.0 1035.7L586.6 1034.4L587.3 1033.1L587.9 1031.7L588.5 1030.3L589.1 1028.9L589.7 1027.6L590.3 1026.2L590.8 1024.8L591.3 1023.4L591.9 1021.9L592.4 1020.5L592.9 1019.1L593.3 1017.6L593.8 1016.2L594.3 1014.8L594.7 1013.3L595.2 1011.9L595.6 1010.4L596.0 1008.9L596.5 1007.5L596.9 1006.0L597.3 1004.6L597.7 1003.1L598.1 1001.6L598.5 1000.2L598.9 998.7L599.3 997.2L599.7 995.8L600.1 994.3L600.5 992.8L600.8 991.4L601.2 989.9L601.6 988.4L602.0 987.0L602.3 985.5L602.7 984.0L603.1 982.6L603.5 981.1L603.8 979.6L604.2 978.2L604.6 976.7L604.9 975.2L605.3 973.8L605.7 972.3L606.0 970.8L606.4 969.4L606.7 967.9L607.1 966.5L607.5 965.0L607.8 963.5L608.2 962.1L608.6 960.6L609.0 959.2L609.3 957.7L609.7 956.3L610.1 954.8L610.5 953.4L610.8 951.9L611.2 950.5L611.6 949.0L612.0 947.6L612.4 946.1L612.7 944.7L613.1 943.2L613.5 941.8L613.9 940.3L614.3 938.9L614.7 937.5L615.0 936.0L615.4 934.6L615.8 933.1L616.2 931.7L616.6 930.2L616.9 928.7L617.3 927.3L617.7 925.8L618.1 924.4L618.4 922.9L618.8 921.5L619.2 920.0L619.5 918.5L619.9 917.0L620.3 915.6L620.6 914.1L621.0 912.6L621.4 911.1L621.7 909.7L622.1 908.2L622.4 906.7L622.8 905.2L623.1 903.7L623.5 902.2L623.9 900.7L624.2 899.2L624.6 897.7L625.0 896.2L625.4 894.7L625.8 893.3L626.2 891.8L626.6 890.3L627.1 888.8L627.5 887.4L628.0 885.9L628.5 884.5L629.0 883.1L629.5 881.6L630.1 880.2L630.7 878.8L631.3 877.4L631.9 876.1L632.6 874.7L633.3 873.3L634.0 872.0L634.8 870.7L635.5 869.4L636.4 868.1L637.2 866.8L638.1 865.6L639.0 864.3L640.0 863.1L641.0 861.9L642.1 860.8L643.2 859.7L644.3 858.6L645.4 857.5L646.6 856.6L647.8 855.6L649.0 854.8L650.2 854.0L651.5 853.3L652.7 852.7L654.0 852.1L655.3 851.7L656.6 851.3L657.9 851.1L659.2 851.0L660.5 851.0L661.8 851.1L663.2 851.4L664.5 851.7L665.7 852.2L667.0 852.7L668.3 853.3L669.6 854.0L670.8 854.8L672.1 855.7L673.3 856.6L674.6 857.5L675.8 858.5L676.9 859.6L678.1 860.6L679.3 861.7L680.4 862.8L681.5 863.9L682.6 865.0L683.7 866.2L684.7 867.3L685.7 868.5L686.8 869.6L687.8 870.8L688.7 872.0L689.7 873.1L690.6 874.3L691.6 875.5L692.5 876.8L693.4 878.0L694.3 879.2L695.1 880.4L696.0 881.7L696.8 882.9L697.7 884.2L698.5 885.5L699.3 886.7L700.1 888.0L700.9 889.3L701.6 890.6L702.4 891.9L703.2 893.2L703.9 894.5L704.6 895.8L705.4 897.1L706.1 898.4L706.8 899.8L707.5 901.1L708.2 902.4L708.9 903.8L709.6 905.1L710.3 906.4L711.0 907.8L711.7 909.1L712.4 910.5L713.1 911.8L713.7 913.2L714.4 914.5L715.1 915.9L715.8 917.2L716.4 918.6L717.1 919.9L717.8 921.3L718.5 922.7L719.2 924.0L719.8 925.4L720.5 926.7L721.2 928.1L721.9 929.4L722.6 930.8L723.3 932.1L724.0 933.5L724.7 934.8L725.4 936.2L726.2 937.5L726.9 938.8L727.6 940.2L728.4 941.5L729.1 942.8L729.9 944.1L730.7 945.5L731.5 946.8L732.2 948.1L733.0 949.4L733.8 950.7L734.6 952.0L735.4 953.3L736.2 954.6L737.1 955.9L737.9 957.1L738.7 958.4L739.6 959.7L740.4 960.9L741.3 962.2L742.2 963.5L743.0 964.7L743.9 965.9L744.8 967.2L745.7 968.4L746.6 969.6L747.5 970.8L748.5 972.0L749.4 973.2L750.3 974.4L751.3 975.6L752.2 976.8L753.2 978.0L754.2 979.1L755.1 980.3L756.1 981.4L757.1 982.6L758.1 983.7L759.1 984.8L760.2 985.9L761.2 987.0L762.2 988.1L763.3 989.2L764.3 990.3L765.4 991.3L766.4 992.4L767.5 993.4L768.6 994.5L769.7 995.5L770.8 996.5L771.9 997.5L773.1 998.5L774.2 999.5L775.3 1000.4L776.5 1001.4L777.6 1002.3L778.8 1003.3L780.0 1004.2L781.2 1005.1L782.4 1006.0L783.6 1006.9L784.8 1007.8L786.0 1008.6L787.3 1009.5L788.5 1010.3L789.8 1011.2L791.0 1012.0L792.3 1012.8L793.6 1013.6L794.9 1014.3L796.2 1015.1L797.5 1015.8L798.8 1016.6L800.1 1017.3L801.5 1018.0L802.8 1018.7L804.2 1019.3L805.6 1020.0L806.9 1020.6L808.3 1021.2L809.7 1021.9L811.1 1022.5L812.6 1023.0L814.0 1023.6L815.4 1024.1" fill="none" stroke="#000" stroke-width="2.6" stroke-linejoin="round"/>
<path d="M148.9 1557.2H816.2" stroke="#000" stroke-width="2.8" stroke-dasharray="21 8.4" fill="none"/>
<path d="M148.3 1557.3L149.8 1557.3L151.3 1557.2L152.8 1557.2L154.3 1557.1L155.8 1557.1L157.3 1557.0L158.8 1556.9L160.3 1556.8L161.8 1556.7L163.3 1556.7L164.8 1556.6L166.3 1556.5L167.8 1556.4L169.3 1556.2L170.8 1556.1L172.3 1556.0L173.8 1555.9L175.3 1555.8L176.8 1555.6L178.3 1555.5L179.8 1555.4L181.3 1555.2L182.8 1555.1L184.3 1555.0L185.8 1554.8L187.3 1554.7L188.8 1554.5L190.3 1554.4L191.8 1554.2L193.3 1554.0L194.8 1553.9L196.3 1553.7L197.8 1553.6L199.3 1553.4L200.8 1553.2L202.3 1553.1L203.8 1552.9L205.3 1552.8L206.8 1552.6L208.3 1552.4L209.8 1552.3L211.3 1552.1L212.8 1551.9L214.3 1551.8L215.8 1551.6L217.3 1551.5L218.8 1551.3L220.3 1551.1L221.8 1551.0L223.3 1550.8L224.8 1550.7L226.2 1550.5L227.7 1550.4L229.2 1550.2L230.7 1550.1L232.2 1549.9L233.7 1549.8L235.2 1549.7L236.7 1549.5L238.2 1549.4L239.7 1549.3L241.2 1549.2L242.7 1549.0L244.2 1548.9L245.7 1548.8L247.2 1548.7L248.7 1548.6L250.2 1548.5L251.7 1548.4L253.2 1548.3L254.7 1548.3L256.2 1548.2L257.7 1548.1L259.2 1548.0L260.7 1548.0L262.2 1547.9L263.7 1547.9L265.2 1547.8L266.7 1547.8L268.1 1547.8L269.6 1547.8L271.1 1547.8L272.6 1547.7L274.1 1547.7L275.6 1547.8L277.1 1547.8L278.6 1547.8L280.1 1547.8L281.6 1547.9L283.1 1547.9L284.6 1548.0L286.1 1548.0L287.5 1548.1L289.0 1548.2L290.5 1548.3L292.0 1548.4L293.5 1548.5L295.0 1548.6L296.5 1548.8L298.0 1548.9L299.5 1549.0L301.0 1549.2L302.4 1549.4L303.9 1549.6L305.4 1549.8L306.9 1550.0L308.4 1550.2L309.9 1550.4L311.4 1550.6L312.8 1550.9L314.3 1551.1L315.8 1551.4L317.3 1551.7L318.8 1552.0L320.3 1552.2L321.8 1552.5L323.2 1552.8L324.7 1553.1L326.2 1553.4L327.7 1553.7L329.2 1554.0L330.7 1554.3L332.1 1554.6L333.6 1554.9L335.1 1555.2L336.6 1555.5L338.1 1555.7L339.6 1556.0L341.1 1556.3L342.5 1556.6L344.0 1556.8L345.5 1557.1L347.0 1557.3L348.5 1557.6L350.0 1557.8L351.5 1558.0L353.0 1558.2L354.5 1558.4L356.0 1558.6L357.4 1558.8L358.9 1558.9L360.4 1559.1L361.9 1559.2L363.4 1559.3L364.9 1559.4L366.4 1559.4L367.9 1559.5L369.4 1559.6L370.9 1559.6L372.4 1559.6L373.9 1559.6L375.4 1559.6L376.9 1559.6L378.4 1559.6L379.9 1559.6L381.4 1559.6L382.9 1559.5L384.4 1559.5L385.9 1559.5L387.5 1559.4L389.0 1559.4L390.5 1559.3L392.0 1559.3L393.5 1559.2L395.0 1559.1L396.5 1559.1L398.0 1559.0L399.5 1559.0L401.0 1558.9L402.5 1558.9L404.0 1558.8L405.6 1558.8L407.1 1558.8L408.6 1558.7L410.1 1558.7L411.6 1558.7L413.1 1558.7L414.6 1558.7L416.1 1558.7L417.6 1558.7L419.1 1558.8L420.7 1558.8L422.2 1558.9L423.7 1558.9L425.2 1559.0L426.7 1559.1L428.2 1559.1L429.7 1559.2L431.2 1559.2L432.7 1559.2L434.2 1559.2L435.7 1559.1L437.2 1559.0L438.6 1558.9L440.1 1558.7L441.6 1558.5L443.0 1558.2L444.5 1557.8L445.9 1557.4L447.3 1557.0L448.8 1556.5L450.2 1555.9L451.6 1555.3L452.9 1554.6L454.3 1553.9L455.6 1553.2L457.0 1552.4L458.2 1551.6L459.5 1550.7L460.8 1549.8L462.0 1548.9L463.2 1548.0L464.4 1547.0L465.5 1546.0L466.6 1545.0L467.7 1544.0L468.8 1542.9L469.8 1541.8L470.8 1540.7L471.8 1539.6L472.8 1538.5L473.7 1537.3L474.7 1536.2L475.6 1535.0L476.5 1533.8L477.3 1532.6L478.2 1531.4L479.0 1530.1L479.9 1528.9L480.7 1527.6L481.5 1526.4L482.3 1525.1L483.0 1523.8L483.8 1522.5L484.6 1521.2L485.3 1519.9L486.1 1518.6L486.8 1517.3L487.5 1516.0L488.3 1514.7L489.0 1513.3L489.7 1512.0L490.4 1510.7L491.1 1509.4L491.9 1508.0L492.6 1506.7L493.3 1505.4L494.0 1504.0L494.6 1502.7L495.3 1501.4L496.0 1500.0L496.7 1498.7L497.3 1497.3L498.0 1496.0L498.7 1494.6L499.3 1493.2L499.9 1491.9L500.6 1490.5L501.2 1489.2L501.8 1487.8L502.4 1486.4L503.0 1485.0L503.6 1483.7L504.2 1482.3L504.8 1480.9L505.4 1479.5L506.0 1478.1L506.5 1476.7L507.1 1475.3L507.6 1473.9L508.2 1472.5L508.7 1471.1L509.2 1469.7L509.8 1468.3L510.3 1466.9L510.8 1465.5L511.3 1464.1L511.8 1462.6L512.3 1461.2L512.8 1459.8L513.3 1458.4L513.8 1457.0L514.2 1455.5L514.7 1454.1L515.2 1452.7L515.6 1451.2L516.1 1449.8L516.6 1448.4L517.0 1446.9L517.5 1445.5L517.9 1444.1L518.3 1442.6L518.8 1441.2L519.2 1439.7L519.6 1438.3L520.1 1436.8L520.5 1435.4L520.9 1434.0L521.3 1432.5L521.7 1431.1L522.1 1429.6L522.5 1428.2L523.0 1426.7L523.4 1425.3L523.8 1423.8L524.2 1422.4L524.6 1420.9L525.0 1419.4L525.3 1418.0L525.7 1416.5L526.1 1415.1L526.5 1413.6L526.9 1412.2L527.3 1410.7L527.7 1409.3L528.1 1407.8L528.4 1406.4L528.8 1404.9L529.2 1403.5L529.6 1402.0L530.0 1400.5L530.3 1399.1L530.7 1397.6L531.1 1396.2L531.4 1394.7L531.8 1393.3L532.2 1391.8L532.6 1390.3L532.9 1388.9L533.3 1387.4L533.6 1386.0L534.0 1384.5L534.4 1383.1L534.7 1381.6L535.1 1380.1L535.4 1378.7L535.8 1377.2L536.2 1375.8L536.5 1374.3L536.9 1372.8L537.2 1371.4L537.6 1369.9L537.9 1368.5L538.3 1367.0L538.6 1365.5L538.9 1364.1L539.3 1362.6L539.6 1361.1L540.0 1359.7L540.3 1358.2L540.7 1356.8L541.0 1355.3L541.3 1353.8L541.7 1352.4L542.0 1350.9L542.3 1349.4L542.7 1348.0L543.0 1346.5L543.3 1345.0L543.7 1343.6L544.0 1342.1L544.3 1340.6L544.6 1339.2L545.0 1337.7L545.3 1336.2L545.6 1334.8L545.9 1333.3L546.3 1331.8L546.6 1330.4L546.9 1328.9L547.2 1327.4L547.5 1326.0L547.9 1324.5L548.2 1323.0L548.5 1321.5L548.8 1320.1L549.1 1318.6L549.4 1317.1L549.8 1315.7L550.1 1314.2L550.4 1312.7L550.7 1311.2L551.0 1309.8L551.3 1308.3L551.6 1306.8L551.9 1305.3L552.2 1303.9L552.5 1302.4L552.9 1300.9L553.2 1299.4L553.5 1298.0L553.8 1296.5L554.1 1295.0L554.4 1293.5L554.7 1292.1L555.0 1290.6L555.3 1289.1L555.6 1287.6L555.9 1286.1L556.2 1284.7L556.5 1283.2L556.8 1281.7L557.1 1280.2L557.4 1278.8L557.8 1277.3L558.1 1275.8L558.5 1274.4L558.9 1272.9L559.4 1271.5L559.9 1270.1L560.4 1268.6L561.0 1267.2L561.7 1265.9L562.4 1264.5L563.1 1263.1L564.0 1261.8L564.9 1260.5L565.8 1259.3L566.8 1258.2L567.9 1257.3L568.9 1256.7L570.0 1256.3L571.1 1256.4L572.1 1256.8L573.1 1257.5L574.1 1258.4L575.0 1259.6L575.8 1260.9L576.5 1262.3L577.2 1263.8L577.7 1265.4L578.2 1266.9L578.7 1268.5L579.1 1270.0L579.5 1271.6L579.8 1273.1L580.2 1274.6L580.5 1276.1L580.9 1277.5L581.2 1279.0L581.5 1280.5L581.8 1281.9L582.1 1283.4L582.4 1284.9L582.7 1286.3L583.0 1287.8L583.3 1289.2L583.6 1290.7L583.9 1292.2L584.2 1293.6L584.5 1295.1L584.8 1296.5L585.0 1298.0L585.3 1299.5L585.6 1301.0L585.9 1302.4L586.1 1303.9L586.4 1305.4L586.6 1306.8L586.9 1308.3L587.2 1309.8L587.4 1311.3L587.7 1312.7L587.9 1314.2L588.2 1315.7L588.4 1317.2L588.7 1318.7L588.9 1320.1L589.2 1321.6L589.4 1323.1L589.6 1324.6L589.9 1326.1L590.1 1327.6L590.3 1329.0L590.6 1330.5L590.8 1332.0L591.0 1333.5L591.3 1335.0L591.5 1336.5L591.7 1338.0L592.0 1339.5L592.2 1341.0L592.4 1342.4L592.6 1343.9L592.9 1345.4L593.1 1346.9L593.3 1348.4L593.5 1349.9L593.7 1351.4L594.0 1352.9L594.2 1354.4L594.4 1355.9L594.6 1357.4L594.8 1358.9L595.0 1360.3L595.3 1361.8L595.5 1363.3L595.7 1364.8L595.9 1366.3L596.1 1367.8L596.3 1369.3L596.5 1370.8L596.8 1372.3L597.0 1373.8L597.2 1375.3L597.4 1376.8L597.6 1378.3L597.8 1379.8L598.1 1381.3L598.3 1382.8L598.5 1384.2L598.7 1385.7L598.9 1387.2L599.2 1388.7L599.4 1390.2L599.6 1391.7L599.8 1393.2L600.0 1394.7L600.3 1396.2L600.5 1397.7L600.7 1399.2L600.9 1400.6L601.2 1402.1L601.4 1403.6L601.6 1405.1L601.9 1406.6L602.1 1408.1L602.3 1409.6L602.6 1411.0L602.8 1412.5L603.0 1414.0L603.3 1415.5L603.5 1417.0L603.8 1418.5L604.0 1419.9L604.3 1421.4L604.5 1422.9L604.8 1424.4L605.0 1425.8L605.3 1427.3L605.5 1428.8L605.8 1430.3L606.1 1431.7L606.3 1433.2L606.6 1434.7L606.9 1436.2L607.1 1437.6L607.4 1439.1L607.7 1440.6L608.0 1442.0L608.2 1443.5L608.5 1445.0L608.8 1446.4L609.1 1447.9L609.4 1449.4L609.7 1450.9L610.0 1452.3L610.3 1453.8L610.6 1455.2L610.9 1456.7L611.2 1458.2L611.5 1459.6L611.8 1461.1L612.2 1462.6L612.5 1464.0L612.8 1465.5L613.1 1467.0L613.5 1468.4L613.8 1469.9L614.2 1471.3L614.5 1472.8L614.8 1474.3L615.2 1475.7L615.6 1477.2L615.9 1478.6L616.3 1480.1L616.6 1481.6L617.0 1483.0L617.4 1484.5L617.8 1485.9L618.2 1487.4L618.5 1488.9L618.9 1490.3L619.3 1491.8L619.7 1493.2L620.1 1494.7L620.5 1496.2L621.0 1497.6L621.4 1499.1L621.8 1500.5L622.3 1502.0L622.7 1503.4L623.2 1504.9L623.6 1506.3L624.1 1507.7L624.6 1509.2L625.1 1510.6L625.6 1512.0L626.1 1513.5L626.6 1514.9L627.1 1516.3L627.7 1517.7L628.3 1519.1L628.8 1520.5L629.4 1521.8L630.1 1523.2L630.7 1524.6L631.3 1525.9L632.0 1527.3L632.7 1528.6L633.4 1530.0L634.1 1531.3L634.8 1532.6L635.6 1533.9L636.3 1535.2L637.1 1536.5L637.9 1537.7L638.8 1539.0L639.6 1540.2L640.5 1541.5L641.4 1542.7L642.3 1543.9L643.3 1545.0L644.3 1546.2L645.3 1547.3L646.3 1548.4L647.3 1549.4L648.4 1550.4L649.5 1551.4L650.7 1552.3L651.8 1553.2L653.0 1554.0L654.2 1554.7L655.5 1555.4L656.8 1556.1L658.1 1556.6L659.4 1557.1L660.8 1557.6L662.2 1557.9L663.6 1558.3L665.1 1558.5L666.6 1558.7L668.1 1558.9L669.6 1559.0L671.1 1559.1L672.7 1559.1L674.2 1559.2L675.8 1559.2L677.3 1559.2L678.9 1559.2L680.4 1559.2L682.0 1559.2L683.6 1559.2L685.1 1559.2L686.7 1559.2L688.2 1559.2L689.8 1559.2L691.3 1559.2L692.8 1559.2L694.4 1559.2L695.9 1559.2L697.4 1559.2L699.0 1559.2L700.5 1559.2L702.0 1559.2L703.5 1559.2L705.1 1559.2L706.6 1559.2L708.1 1559.3L709.6 1559.3L711.1 1559.3L712.6 1559.3L714.1 1559.3L715.6 1559.3L717.1 1559.4L718.7 1559.4L720.2 1559.4L721.7 1559.4L723.2 1559.4L724.6 1559.4L726.1 1559.5L727.6 1559.5L729.1 1559.5L730.6 1559.5L732.1 1559.5L733.6 1559.5L735.1 1559.5L736.6 1559.6L738.1 1559.6L739.6 1559.6L741.1 1559.6L742.5 1559.6L744.0 1559.6L745.5 1559.6L747.0 1559.6L748.5 1559.6L750.0 1559.6L751.5 1559.6L752.9 1559.6L754.4 1559.6L755.9 1559.6L757.4 1559.6L758.9 1559.6L760.4 1559.6L761.9 1559.6L763.3 1559.6L764.8 1559.6L766.3 1559.6L767.8 1559.5L769.3 1559.5L770.8 1559.5L772.3 1559.5L773.8 1559.4L775.2 1559.4L776.7 1559.4L778.2 1559.3L779.7 1559.3L781.2 1559.3L782.7 1559.2L784.2 1559.2L785.7 1559.1L787.2 1559.1L788.7 1559.0L790.2 1558.9L791.7 1558.9L793.2 1558.8L794.7 1558.7L796.3 1558.7L797.8 1558.6L799.3 1558.5L800.8 1558.4L802.3 1558.3L803.8 1558.2L805.4 1558.1L806.9 1558.0L808.4 1557.9L810.0 1557.8L811.5 1557.7L813.0 1557.6L814.6 1557.4L816.1 1557.3" fill="none" stroke="#000" stroke-width="2.6" stroke-linejoin="round"/>
<path d="M148.9 2010.6H816.2" stroke="#000" stroke-width="2.8" stroke-dasharray="21 8.4" fill="none"/>
<path d="M147.8 2030.7L149.3 2029.8L150.7 2028.9L152.2 2028.1L153.6 2027.4L155.1 2026.7L156.5 2026.1L158.0 2025.5L159.4 2024.9L160.9 2024.5L162.4 2024.0L163.8 2023.6L165.3 2023.3L166.8 2023.0L168.2 2022.8L169.7 2022.6L171.2 2022.4L172.6 2022.3L174.1 2022.2L175.6 2022.1L177.0 2022.1L178.5 2022.1L180.0 2022.1L181.5 2022.2L182.9 2022.3L184.4 2022.4L185.9 2022.6L187.4 2022.8L188.9 2022.9L190.3 2023.2L191.8 2023.4L193.3 2023.7L194.8 2023.9L196.3 2024.2L197.8 2024.5L199.2 2024.8L200.7 2025.1L202.2 2025.5L203.7 2025.8L205.2 2026.1L206.7 2026.5L208.2 2026.8L209.7 2027.2L211.2 2027.5L212.6 2027.9L214.1 2028.2L215.6 2028.6L217.1 2028.9L218.6 2029.2L220.1 2029.5L221.6 2029.8L223.1 2030.1L224.6 2030.4L226.1 2030.7L227.6 2030.9L229.1 2031.1L230.6 2031.3L232.1 2031.5L233.6 2031.7L235.1 2031.8L236.6 2032.0L238.1 2032.1L239.6 2032.2L241.0 2032.2L242.5 2032.3L244.0 2032.3L245.5 2032.3L247.0 2032.3L248.5 2032.3L250.0 2032.2L251.5 2032.1L253.0 2032.0L254.5 2031.9L256.0 2031.8L257.4 2031.7L258.9 2031.5L260.4 2031.3L261.9 2031.1L263.4 2030.9L264.8 2030.7L266.3 2030.5L267.8 2030.2L269.3 2029.9L270.7 2029.7L272.2 2029.3L273.7 2029.0L275.1 2028.7L276.6 2028.3L278.0 2028.0L279.5 2027.6L280.9 2027.2L282.4 2026.8L283.8 2026.4L285.2 2025.9L286.7 2025.5L288.1 2025.0L289.5 2024.6L290.9 2024.1L292.3 2023.6L293.8 2023.1L295.2 2022.5L296.6 2022.0L298.0 2021.5L299.4 2020.9L300.8 2020.3L302.1 2019.8L303.5 2019.2L304.9 2018.6L306.3 2018.0L307.6 2017.3L309.0 2016.7L310.4 2016.1L311.7 2015.4L313.1 2014.8L314.4 2014.1L315.8 2013.5L317.1 2012.8L318.5 2012.1L319.8 2011.5L321.1 2010.8L322.5 2010.1L323.8 2009.4L325.2 2008.7L326.5 2008.0L327.8 2007.3L329.2 2006.6L330.5 2005.9L331.8 2005.2L333.2 2004.5L334.5 2003.8L335.8 2003.1L337.2 2002.4L338.5 2001.7L339.9 2001.0L341.2 2000.4L342.6 1999.7L343.9 1999.0L345.3 1998.3L346.6 1997.6L348.0 1997.0L349.3 1996.3L350.7 1995.6L352.1 1995.0L353.4 1994.3L354.8 1993.7L356.2 1993.1L357.6 1992.5L358.9 1991.8L360.3 1991.2L361.7 1990.6L363.1 1990.1L364.6 1989.5L366.0 1988.9L367.4 1988.4L368.8 1987.8L370.2 1987.3L371.7 1986.8L373.1 1986.3L374.6 1985.8L376.0 1985.3L377.5 1984.8L378.9 1984.3L380.3 1983.8L381.8 1983.3L383.2 1982.8L384.7 1982.3L386.1 1981.9L387.6 1981.4L389.0 1980.9L390.4 1980.4L391.8 1979.9L393.3 1979.4L394.7 1978.9L396.1 1978.3L397.5 1977.8L398.9 1977.3L400.3 1976.7L401.6 1976.2L403.0 1975.6L404.3 1975.0L405.7 1974.4L407.0 1973.8L408.3 1973.2L409.6 1972.5L410.9 1971.9L412.2 1971.2L413.5 1970.5L414.8 1969.9L416.0 1969.2L417.3 1968.4L418.6 1967.7L419.8 1967.0L421.1 1966.2L422.3 1965.5L423.6 1964.7L424.8 1963.9L426.1 1963.2L427.3 1962.4L428.6 1961.6L429.8 1960.8L431.1 1959.9L432.3 1959.1L433.6 1958.3L434.9 1957.4L436.2 1956.6L437.4 1955.8L438.7 1954.9L440.0 1954.0L441.3 1953.2L442.6 1952.3L444.0 1951.4L445.3 1950.6L446.7 1949.7L448.0 1948.8L449.4 1948.0L450.8 1947.1L452.1 1946.3L453.5 1945.4L454.9 1944.6L456.3 1943.8L457.7 1943.0L459.1 1942.3L460.5 1941.5L462.0 1940.8L463.4 1940.1L464.8 1939.5L466.2 1938.9L467.7 1938.3L469.1 1937.8L470.5 1937.3L471.9 1936.9L473.4 1936.5L474.8 1936.1L476.2 1935.8L477.6 1935.6L479.1 1935.4L480.5 1935.3L481.9 1935.3L483.3 1935.3L484.7 1935.3L486.1 1935.5L487.5 1935.7L488.8 1935.9L490.2 1936.3L491.6 1936.6L492.9 1937.1L494.3 1937.6L495.6 1938.1L497.0 1938.7L498.3 1939.3L499.6 1940.0L500.9 1940.7L502.2 1941.4L503.4 1942.2L504.7 1943.0L506.0 1943.9L507.2 1944.8L508.4 1945.7L509.6 1946.7L510.8 1947.6L512.0 1948.6L513.2 1949.7L514.3 1950.7L515.5 1951.7L516.6 1952.8L517.7 1953.9L518.8 1955.0L519.8 1956.1L520.9 1957.2L521.9 1958.3L522.9 1959.5L523.9 1960.6L524.9 1961.7L525.8 1962.9L526.8 1964.0L527.7 1965.2L528.6 1966.3L529.5 1967.5L530.4 1968.6L531.3 1969.8L532.1 1971.0L533.0 1972.2L533.8 1973.4L534.7 1974.6L535.5 1975.8L536.3 1977.0L537.1 1978.2L537.9 1979.4L538.7 1980.6L539.5 1981.9L540.3 1983.1L541.1 1984.4L541.9 1985.6L542.7 1986.9L543.5 1988.2L544.3 1989.5L545.1 1990.8L545.9 1992.1L546.8 1993.4L547.6 1994.7L548.4 1996.1L549.2 1997.4L550.1 1998.8L550.9 2000.1L551.7 2001.5L552.6 2002.9L553.5 2004.2L554.4 2005.6L555.3 2006.9L556.2 2008.2L557.1 2009.5L558.0 2010.8L559.0 2012.1L560.0 2013.3L560.9 2014.6L562.0 2015.8L563.0 2016.9L564.0 2018.1L565.1 2019.2L566.2 2020.2L567.3 2021.2L568.4 2022.2L569.5 2023.1L570.7 2024.0L571.9 2024.8L573.1 2025.6L574.4 2026.3L575.7 2026.9L577.0 2027.5L578.3 2028.0L579.7 2028.5L581.1 2028.9L582.5 2029.2L583.9 2029.4L585.3 2029.6L586.7 2029.7L588.1 2029.7L589.6 2029.7L591.0 2029.6L592.4 2029.4L593.7 2029.1L595.1 2028.8L596.4 2028.3L597.7 2027.8L599.0 2027.3L600.2 2026.6L601.3 2025.9L602.5 2025.0L603.5 2024.1L604.5 2023.1L605.5 2022.1L606.4 2020.9L607.2 2019.7L608.0 2018.4L608.7 2017.1L609.4 2015.7L610.1 2014.3L610.7 2012.9L611.3 2011.4L611.9 2009.9L612.5 2008.4L613.0 2006.9L613.5 2005.3L614.0 2003.8L614.5 2002.3L615.0 2000.8L615.4 1999.3L615.9 1997.8L616.3 1996.3L616.8 1994.8L617.2 1993.3L617.6 1991.8L618.0 1990.3L618.4 1988.9L618.8 1987.4L619.2 1985.9L619.6 1984.5L619.9 1983.0L620.3 1981.6L620.6 1980.1L621.0 1978.7L621.3 1977.2L621.7 1975.8L622.0 1974.3L622.3 1972.9L622.6 1971.4L623.0 1970.0L623.3 1968.5L623.6 1967.1L623.9 1965.7L624.2 1964.2L624.5 1962.8L624.8 1961.3L625.1 1959.9L625.3 1958.4L625.6 1957.0L625.9 1955.5L626.2 1954.1L626.5 1952.6L626.8 1951.2L627.0 1949.7L627.3 1948.2L627.6 1946.8L627.9 1945.3L628.1 1943.9L628.4 1942.4L628.7 1940.9L629.0 1939.4L629.2 1938.0L629.5 1936.5L629.8 1935.0L630.0 1933.5L630.3 1932.1L630.5 1930.6L630.8 1929.1L631.1 1927.6L631.3 1926.1L631.6 1924.6L631.8 1923.2L632.1 1921.7L632.4 1920.2L632.6 1918.7L632.9 1917.2L633.1 1915.7L633.4 1914.2L633.6 1912.7L633.9 1911.2L634.1 1909.7L634.4 1908.2L634.6 1906.7L634.9 1905.2L635.1 1903.7L635.4 1902.2L635.6 1900.7L635.8 1899.2L636.1 1897.7L636.3 1896.2L636.6 1894.7L636.8 1893.2L637.1 1891.7L637.3 1890.2L637.6 1888.7L637.8 1887.2L638.0 1885.7L638.3 1884.2L638.5 1882.7L638.8 1881.2L639.0 1879.7L639.2 1878.2L639.5 1876.7L639.7 1875.2L640.0 1873.7L640.2 1872.2L640.4 1870.7L640.7 1869.2L640.9 1867.7L641.2 1866.2L641.4 1864.7L641.6 1863.2L641.9 1861.7L642.1 1860.2L642.3 1858.7L642.6 1857.3L642.8 1855.8L643.1 1854.3L643.3 1852.8L643.5 1851.3L643.8 1849.8L644.0 1848.3L644.3 1846.8L644.5 1845.4L644.8 1843.9L645.0 1842.4L645.2 1840.9L645.5 1839.4L645.7 1838.0L646.0 1836.5L646.2 1835.0L646.5 1833.5L646.7 1832.1L647.0 1830.6L647.2 1829.1L647.4 1827.7L647.7 1826.2L647.9 1824.7L648.2 1823.3L648.4 1821.8L648.7 1820.4L648.9 1818.9L649.2 1817.5L649.5 1816.0L649.7 1814.6L650.0 1813.1L650.2 1811.7L650.5 1810.3L650.7 1808.8L651.0 1807.4L651.3 1805.9L651.6 1804.5L651.8 1803.1L652.1 1801.6L652.4 1800.2L652.7 1798.7L653.0 1797.3L653.3 1795.8L653.6 1794.4L654.0 1792.9L654.3 1791.4L654.7 1790.0L655.0 1788.5L655.4 1787.0L655.8 1785.5L656.2 1784.0L656.6 1782.5L657.0 1781.0L657.5 1779.5L657.9 1778.0L658.4 1776.4L658.9 1774.9L659.4 1773.3L659.9 1771.8L660.4 1770.2L661.0 1768.6L661.6 1767.0L662.1 1765.4L662.8 1763.8L663.4 1762.2L664.1 1760.6L664.7 1759.1L665.4 1757.6L666.2 1756.1L666.9 1754.7L667.7 1753.3L668.5 1752.1L669.4 1750.9L670.3 1749.9L671.2 1748.9L672.1 1748.1L673.1 1747.4L674.1 1746.9L675.1 1746.5L676.2 1746.2L677.3 1746.2L678.4 1746.3L679.6 1746.5L680.7 1747.0L681.8 1747.5L682.9 1748.2L684.0 1749.0L685.1 1749.9L686.2 1750.9L687.2 1752.0L688.3 1753.2L689.3 1754.4L690.3 1755.7L691.2 1757.0L692.1 1758.3L693.0 1759.6L693.8 1760.9L694.6 1762.3L695.4 1763.6L696.1 1765.0L696.8 1766.4L697.5 1767.7L698.1 1769.1L698.7 1770.5L699.3 1771.9L699.9 1773.3L700.4 1774.8L700.9 1776.2L701.4 1777.6L701.8 1779.0L702.3 1780.5L702.7 1781.9L703.1 1783.4L703.5 1784.8L703.9 1786.3L704.2 1787.8L704.6 1789.2L704.9 1790.7L705.2 1792.2L705.6 1793.6L705.9 1795.1L706.2 1796.6L706.5 1798.1L706.8 1799.5L707.1 1801.0L707.4 1802.5L707.6 1804.0L707.9 1805.5L708.2 1806.9L708.5 1808.4L708.8 1809.9L709.1 1811.4L709.4 1812.9L709.6 1814.3L709.9 1815.8L710.2 1817.3L710.5 1818.8L710.8 1820.3L711.0 1821.7L711.3 1823.2L711.6 1824.7L711.9 1826.2L712.1 1827.7L712.4 1829.2L712.7 1830.7L712.9 1832.1L713.2 1833.6L713.5 1835.1L713.7 1836.6L714.0 1838.1L714.3 1839.6L714.5 1841.0L714.8 1842.5L715.1 1844.0L715.3 1845.5L715.6 1847.0L715.8 1848.5L716.1 1850.0L716.3 1851.4L716.6 1852.9L716.9 1854.4L717.1 1855.9L717.4 1857.4L717.6 1858.9L717.9 1860.4L718.1 1861.9L718.4 1863.3L718.6 1864.8L718.9 1866.3L719.1 1867.8L719.4 1869.3L719.6 1870.8L719.9 1872.3L720.1 1873.8L720.4 1875.2L720.6 1876.7L720.9 1878.2L721.1 1879.7L721.4 1881.2L721.6 1882.7L721.9 1884.2L722.1 1885.7L722.4 1887.1L722.6 1888.6L722.9 1890.1L723.1 1891.6L723.4 1893.1L723.6 1894.6L723.9 1896.1L724.1 1897.6L724.3 1899.0L724.6 1900.5L724.8 1902.0L725.1 1903.5L725.3 1905.0L725.6 1906.5L725.8 1908.0L726.1 1909.5L726.3 1910.9L726.6 1912.4L726.8 1913.9L727.1 1915.4L727.3 1916.9L727.6 1918.4L727.8 1919.9L728.1 1921.3L728.3 1922.8L728.6 1924.3L728.8 1925.8L729.1 1927.3L729.3 1928.8L729.6 1930.3L729.8 1931.7L730.1 1933.2L730.3 1934.7L730.6 1936.2L730.8 1937.7L731.1 1939.2L731.3 1940.6L731.6 1942.1L731.8 1943.6L732.1 1945.1L732.4 1946.6L732.6 1948.1L732.9 1949.5L733.1 1951.0L733.4 1952.5L733.7 1954.0L733.9 1955.5L734.2 1956.9L734.5 1958.4L734.7 1959.9L735.0 1961.4L735.3 1962.9L735.5 1964.3L735.8 1965.8L736.1 1967.3L736.3 1968.8L736.6 1970.2L736.9 1971.7L737.1 1973.2L737.4 1974.7L737.7 1976.1L738.0 1977.6L738.3 1979.1L738.5 1980.6L738.8 1982.0L739.1 1983.5L739.4 1985.0L739.7 1986.5L740.0 1987.9L740.2 1989.4L740.5 1990.9L740.8 1992.3L741.1 1993.8L741.4 1995.3L741.7 1996.7L742.0 1998.2L742.3 1999.7L742.6 2001.2L742.9 2002.6L743.2 2004.1L743.5 2005.6L743.8 2007.0L744.1 2008.5L744.4 2009.9L744.7 2011.4L745.1 2012.9L745.4 2014.3L745.7 2015.8L746.0 2017.3L746.4 2018.7L746.8 2020.2L747.1 2021.7L747.5 2023.1L747.9 2024.6L748.3 2026.0L748.8 2027.5L749.2 2029.0L749.7 2030.4L750.1 2031.9L750.6 2033.4L751.2 2034.8L751.7 2036.3L752.3 2037.8L752.9 2039.2L753.5 2040.7L754.2 2042.2L754.8 2043.6L755.5 2045.1L756.3 2046.5L757.0 2048.0L757.8 2049.3L758.7 2050.7L759.5 2051.9L760.4 2053.1L761.4 2054.3L762.3 2055.3L763.3 2056.2L764.4 2057.0L765.4 2057.6L766.5 2058.2L767.7 2058.6L768.9 2058.8L770.1 2058.8L771.4 2058.7L772.7 2058.5L774.0 2058.2L775.3 2057.7L776.7 2057.1L778.0 2056.5L779.4 2055.8L780.8 2055.0L782.1 2054.1L783.5 2053.2L784.8 2052.3L786.2 2051.4L787.5 2050.4L788.7 2049.5L790.0 2048.5L791.2 2047.6L792.5 2046.6L793.7 2045.7L794.9 2044.7L796.1 2043.8L797.3 2042.9L798.4 2042.0L799.6 2041.1L800.8 2040.2L802.0 2039.3L803.2 2038.4L804.4 2037.6L805.6 2036.7L806.8 2035.9L808.1 2035.1L809.3 2034.3L810.6 2033.6L811.9 2032.9L813.2 2032.1L814.6 2031.5L816.0 2030.8" fill="none" stroke="#000" stroke-width="2.6" stroke-linejoin="round"/>
<text transform="translate(609.5,825.9) scale(1,1.04)" font-family="&quot;Liberation Sans&quot;, sans-serif" font-size="30">p&lt;0.001</text>
<text transform="translate(529.3,1238.7) scale(1,1.04)" font-family="&quot;Liberation Sans&quot;, sans-serif" font-size="30">p&lt;0.01</text>
<text transform="translate(222.5,1525.9) scale(1,1.04)" font-family="&quot;Liberation Sans&quot;, sans-serif" font-size="30">p&lt;0.001</text>
<text transform="translate(429.5,1918.7) scale(1,1.04)" font-family="&quot;Liberation Sans&quot;, sans-serif" font-size="30">p&lt;0.001</text>
<text transform="translate(626.2,1729.3) scale(1,1.04)" font-family="&quot;Liberation Sans&quot;, sans-serif" font-size="30">p=0.002</text>
</svg></body></html>
